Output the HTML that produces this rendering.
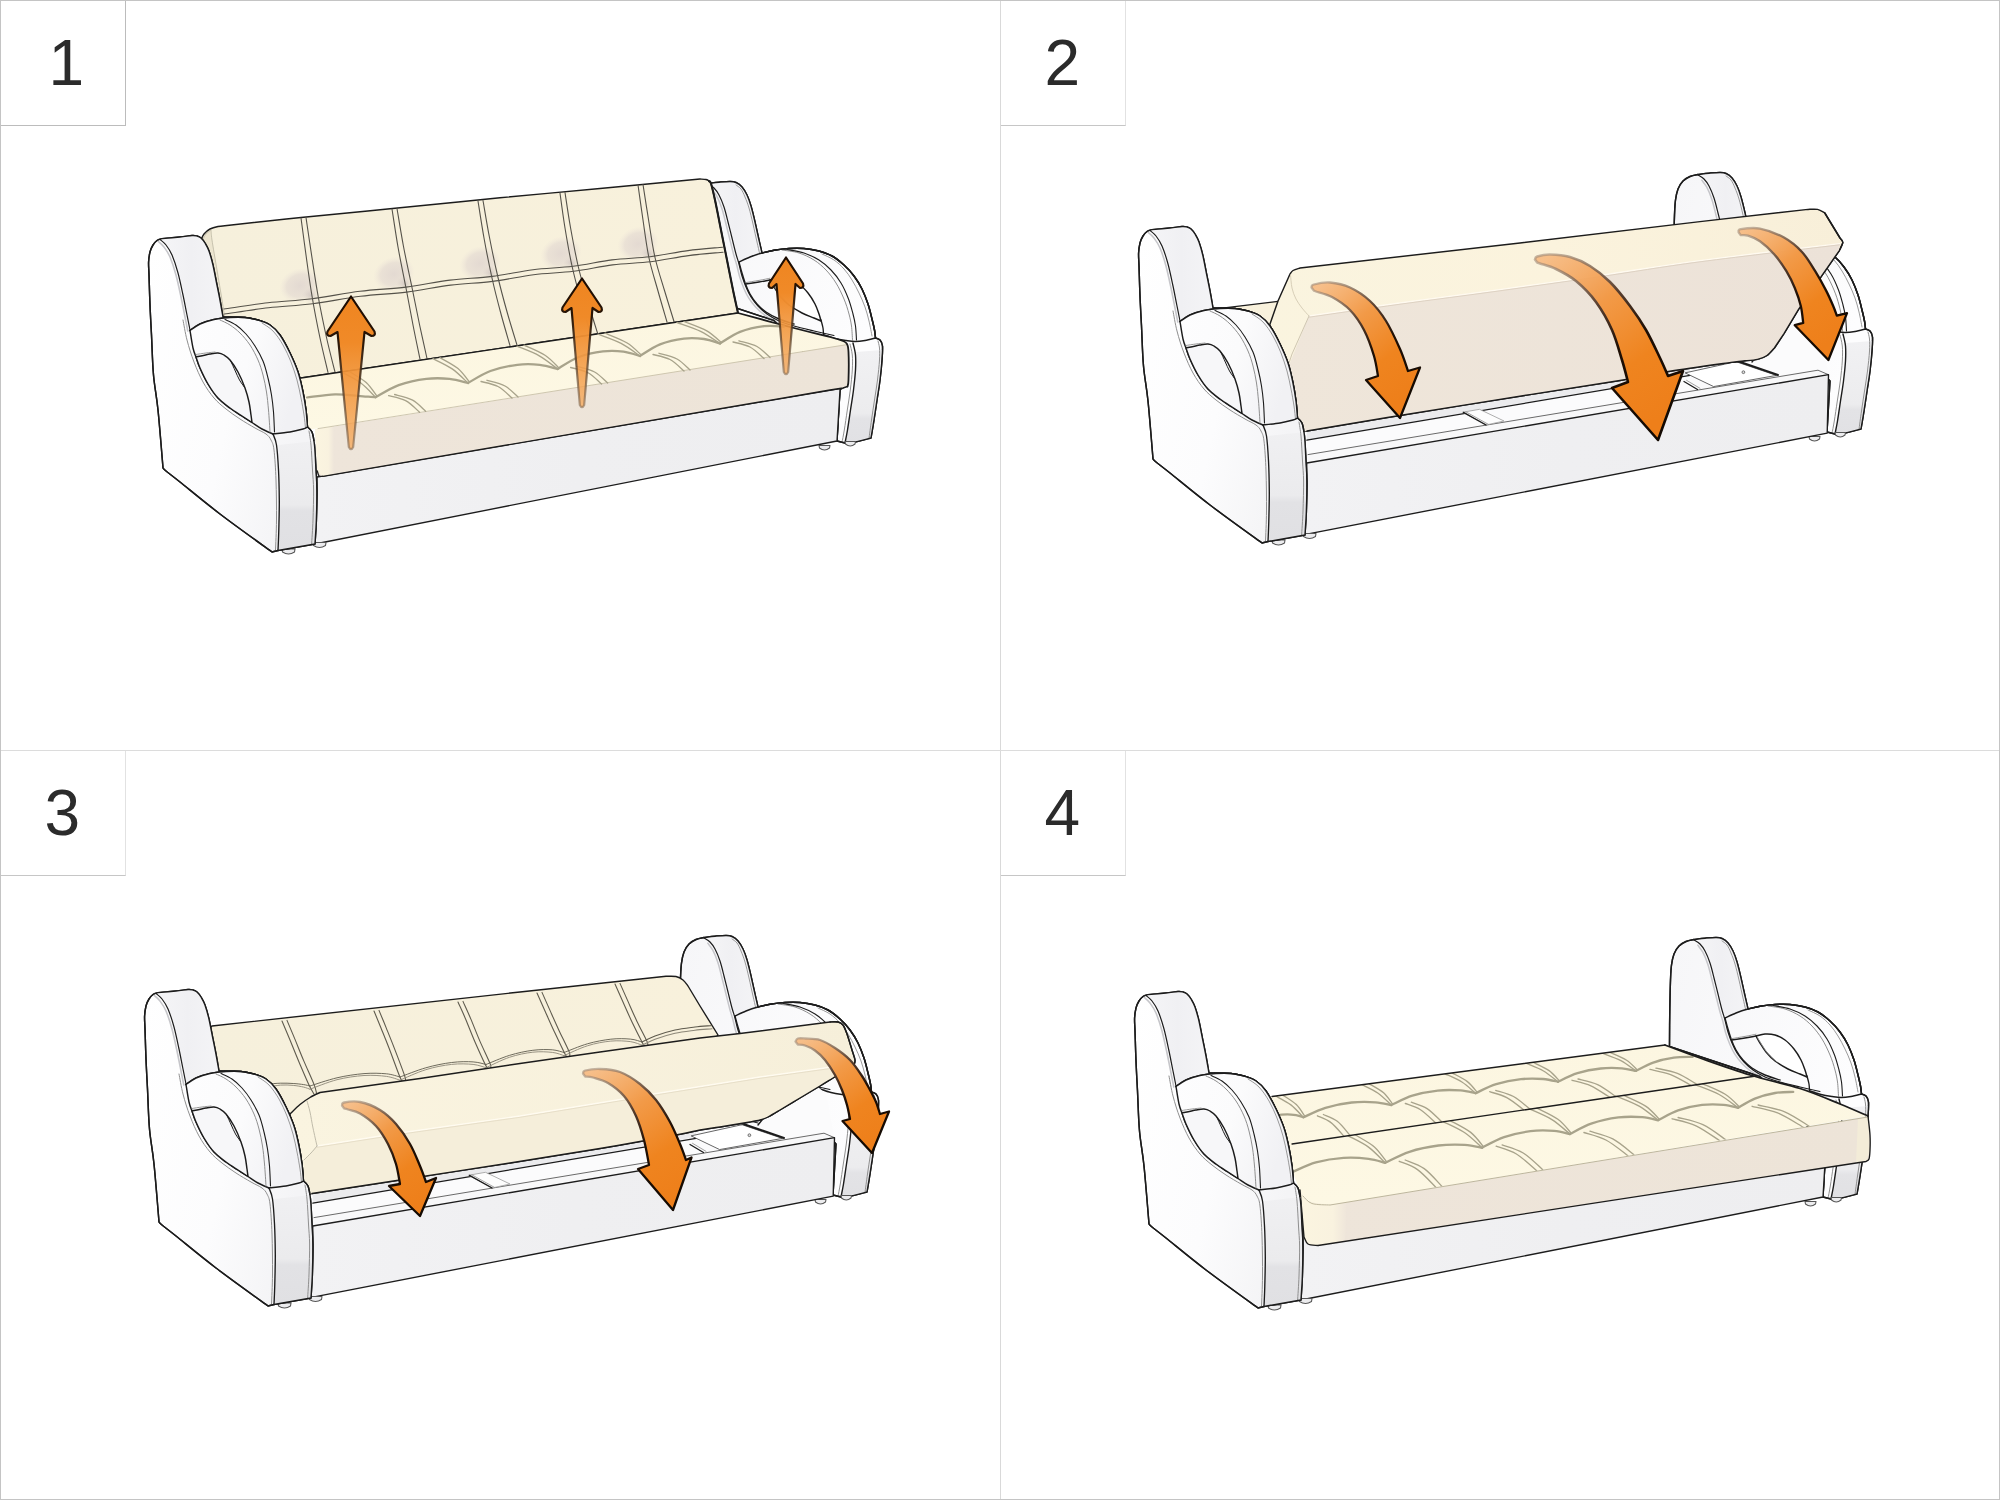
<!DOCTYPE html><html><head><meta charset="utf-8"><title>sofa</title><style>html,body{margin:0;padding:0;background:#fff}
#wrap{position:relative;width:2000px;height:1500px;overflow:hidden;background:#fff;font-family:"Liberation Sans",sans-serif}
#wrap svg{position:absolute;left:0;top:0}
.frame{position:absolute;left:0;top:0;width:1998px;height:1498px;border:1px solid #c4c4c4}
.vl{position:absolute;left:999.5px;top:0;width:1px;height:1500px;background:#d9d9d9}
.hl{position:absolute;left:0;top:749.5px;width:2000px;height:1px;background:#dcdcdc}
.num{position:absolute;width:125.5px;height:125.5px;padding-top:1px;border-right:1px solid #cfcfcf;border-bottom:1px solid #cfcfcf;box-sizing:border-box;background:#fff;color:#2b2b2b;font-size:64px;line-height:125px;text-align:center}
</style></head><body><div id="wrap"><div class="num" style="left:0px;top:0px;text-indent:8px;border-right-color:#bcbcbc;border-bottom-color:#bcbcbc">1</div><div class="num" style="left:1000px;top:0px;border-right-color:#e2e2e2;border-bottom-color:#c6c6c6">2</div><div class="num" style="left:0px;top:750px;border-right-color:#e2e2e2;border-bottom-color:#c6c6c6">3</div><div class="num" style="left:1000px;top:750px;border-right-color:#e2e2e2;border-bottom-color:#c6c6c6">4</div><div class="vl"></div><div class="hl"></div><div class="frame"></div><svg width="2000" height="1500" viewBox="0 0 2000 1500">
<defs>
<linearGradient id="gWall" x1="0" y1="0" x2="1" y2="0.4"><stop offset="0" stop-color="#ffffff"/><stop offset="0.6" stop-color="#fcfcfd"/><stop offset="1" stop-color="#f4f4f6"/></linearGradient>
<linearGradient id="gWallR" x1="0" y1="0" x2="1" y2="0.3"><stop offset="0" stop-color="#f6f6f8"/><stop offset="1" stop-color="#fdfdfe"/></linearGradient>
<linearGradient id="gStrip" x1="0" y1="0" x2="0" y2="1"><stop offset="0" stop-color="#f0f0f2"/><stop offset="0.58" stop-color="#ebebed"/><stop offset="0.64" stop-color="#e2e2e5"/><stop offset="1" stop-color="#e0e0e3"/></linearGradient>
<linearGradient id="gStripR" x1="0" y1="0" x2="0" y2="1"><stop offset="0" stop-color="#f1f1f3"/><stop offset="0.68" stop-color="#ececee"/><stop offset="0.74" stop-color="#e3e3e6"/><stop offset="1" stop-color="#e1e1e4"/></linearGradient>
<linearGradient id="gBase" x1="0" y1="0" x2="1" y2="0"><stop offset="0" stop-color="#f2f2f4"/><stop offset="0.5" stop-color="#efeff1"/><stop offset="1" stop-color="#eeeef0"/></linearGradient>
<linearGradient id="gBack" x1="0" y1="0" x2="1" y2="0"><stop offset="0" stop-color="#f6f0dc"/><stop offset="1" stop-color="#f8f1dc"/></linearGradient>
<linearGradient id="gSeatTop" x1="0" y1="0" x2="0" y2="1"><stop offset="0" stop-color="#fcf6e1"/><stop offset="1" stop-color="#fdf8e4"/></linearGradient>
<linearGradient id="gSeatFront" x1="0" y1="0" x2="1" y2="0"><stop offset="0" stop-color="#eee5da"/><stop offset="1" stop-color="#ede4d8"/></linearGradient>
<linearGradient id="gSeatCorner" x1="0" y1="0" x2="1" y2="0"><stop offset="0" stop-color="#fbf5e0"/><stop offset="0.7" stop-color="#f9f2df"/><stop offset="1" stop-color="#eee5da"/></linearGradient>
<radialGradient id="gTuft2"><stop offset="0" stop-color="#b9adb0" stop-opacity="0.55"/><stop offset="1" stop-color="#d8ccc8" stop-opacity="0"/></radialGradient>
<radialGradient id="gTuft"><stop offset="0" stop-color="#d6cacb" stop-opacity="0.6"/><stop offset="0.65" stop-color="#ddd2cf" stop-opacity="0.5"/><stop offset="0.9" stop-color="#e6dcd6" stop-opacity="0.15"/><stop offset="1" stop-color="#e6dcd6" stop-opacity="0"/></radialGradient>
<linearGradient id="gBlockTop" x1="0" y1="0" x2="1" y2="0"><stop offset="0" stop-color="#faf4df"/><stop offset="0.5" stop-color="#fbf3dd"/><stop offset="1" stop-color="#f8efd9"/></linearGradient>
<linearGradient id="gBlockFace" x1="0" y1="0" x2="1" y2="0"><stop offset="0" stop-color="#efe6da"/><stop offset="1" stop-color="#ece2d8"/></linearGradient>
<linearGradient id="gBlk3" x1="0" y1="0" x2="1" y2="0"><stop offset="0" stop-color="#faf4e0"/><stop offset="1" stop-color="#f6efda"/></linearGradient>
<linearGradient id="gTopStrip" x1="0" y1="0" x2="1" y2="0"><stop offset="0" stop-color="#f5f5f7"/><stop offset="0.5" stop-color="#f0f0f3"/><stop offset="1" stop-color="#f4f4f6"/></linearGradient>
<linearGradient id="gArmL" x1="0" y1="0" x2="1" y2="0.3"><stop offset="0" stop-color="#fdfdfe"/><stop offset="0.55" stop-color="#fbfbfc"/><stop offset="1" stop-color="#f1f1f4"/></linearGradient>
</defs>
<g><path d="M683.5,290.5C683.5,284.4 683.6,265.1 683.8,254C684,242.9 684.2,231.5 684.5,224C684.8,216.5 684.9,213.3 685.5,209C686.1,204.7 686.8,201.2 688,198C689.2,194.8 691,192.1 693,190C695,187.9 697.5,186.6 700,185.5C702.5,184.4 706.7,183.8 708,183.5C709.8,183.3 715.3,182.5 719,182.2C722.7,181.9 727.2,181.5 730,181.5C732.8,181.5 734,181.6 736,182.5C738,183.4 740.2,184.9 742,187C743.8,189.1 745.5,191.8 747,195C748.5,198.2 749.7,201.5 751,206C752.3,210.5 753.7,216.3 755,222C756.3,227.7 757.8,234.8 759,240C760.2,245.2 761.5,250.8 762,253C764,252.5 769.5,251 774,250.2C778.5,249.5 784,248.8 789,248.5C794,248.2 799,248.1 804,248.5C809,248.9 814.3,249.8 819,251C823.7,252.2 827.8,253.7 832,256C836.2,258.3 840.3,261.7 844,265C847.7,268.3 851,272 854,276C857,280 859.7,284.3 862,289C864.3,293.7 866.3,299 868,304C869.7,309 870.9,314.7 872,319C873.1,323.3 873.9,326.8 874.5,330C875.1,333.2 875.3,336.7 875.5,338C876.2,338.3 878.8,338.7 880,340C881.2,341.3 882.2,342.7 882.5,346C882.8,349.3 882.4,354.3 882,360C881.6,365.7 880.8,373.3 880,380C879.2,386.7 878,393.3 877,400C876,406.7 875,413.7 874,420C873,426.3 871.5,435 871,438C868.3,438.7 859.3,441.2 855,442C850.7,442.8 846.7,442.8 845,443L837,441L840,390L774,320.5Z" fill="url(#gWallR)" stroke="#1c1c1c" stroke-width="1.45" stroke-linejoin="round" stroke-linecap="round"/>
<path d="M856,352L882,350L880,380L874,420L871,438L855,442L845,443L853.5,390Z" fill="url(#gStripR)"/>
<path d="M708,183.5C709.8,183.3 715.3,182.5 719,182.2C722.7,181.9 727.2,181.5 730,181.5C732.8,181.5 734,181.6 736,182.5C738,183.4 740.2,184.9 742,187C743.8,189.1 745.5,191.8 747,195C748.5,198.2 749.7,201.5 751,206C752.3,210.5 753.7,216.3 755,222C756.3,227.7 757.8,234.8 759,240C760.2,245.2 761.5,250.8 762,253C760,253.7 753.8,255.5 750,257C746.2,258.5 740.8,261.2 739,262C738.5,260.7 737.2,258 736,254C734.8,250 733.3,243.3 732,238C730.7,232.7 729.3,227.2 728,222C726.7,216.8 725.5,211.5 724,207C722.5,202.5 720.7,198.2 719,195C717.3,191.8 715.8,189.8 714,188C712.2,186.2 709,184.7 708,184Z" fill="url(#gTopStrip)"/>
<path d="M708,184C709,184.7 712.2,186.2 714,188C715.8,189.8 717.3,191.8 719,195C720.7,198.2 722.5,202.5 724,207C725.5,211.5 726.7,216.8 728,222C729.3,227.2 730.7,232.7 732,238C733.3,243.3 734.8,249.7 736,254C737.2,258.3 738,260.3 739,264C740,267.7 740.8,272.2 742,276C743.2,279.8 744.5,283.5 746,287C747.5,290.5 749,293.8 751,297C753,300.2 755.3,303.2 758,306C760.7,308.8 763.5,311.5 767,314C770.5,316.5 774.5,319 779,321C783.5,323 788.2,324.3 794,326C799.8,327.7 807.3,329.4 814,331C820.7,332.6 830.7,334.8 834,335.5" fill="none" stroke="#1c1c1c" stroke-width="1.2" stroke-linejoin="round" stroke-linecap="round"/>
<path d="M711.8,189.2C712.6,190.4 715.1,193 716.8,196.2C718.5,199.4 720.3,203.7 721.8,208.2C723.3,212.7 724.5,218 725.8,223.2C727.1,228.4 728.5,233.9 729.8,239.2C731.1,244.5 732.6,250.9 733.8,255.2C735,259.5 735.8,261.5 736.8,265.2C737.8,268.9 738.6,273.4 739.8,277.2C741,281 742.3,284.7 743.8,288.2C745.3,291.7 746.8,295 748.8,298.2C750.8,301.4 753.1,304.4 755.8,307.2C758.5,310 761.3,312.7 764.8,315.2C768.3,317.7 772.3,320.2 776.8,322.2C781.3,324.2 786,325.5 791.8,327.2C797.6,328.9 805.1,330.6 811.8,332.2C818.5,333.8 828.5,335.9 831.8,336.7" fill="none" stroke="#c6c6ca" stroke-width="1.5" stroke-linejoin="round" stroke-linecap="round"/>
<path d="M736,185C736.8,185.7 739.5,187 741,189C742.5,191 743.7,193.8 745,197C746.3,200.2 747.7,203.5 749,208C750.3,212.5 751.7,218.3 753,224C754.3,229.7 755.9,237.2 757,242C758.1,246.8 759.1,251.2 759.5,253" fill="none" stroke="#8f8f8f" stroke-width="0.9" stroke-linejoin="round" stroke-linecap="round"/>
<path d="M739,262C740.8,261.2 746.2,258.5 750,257C753.8,255.5 758,254.1 762,253C766,251.9 769.5,251 774,250.2C778.5,249.5 784,248.8 789,248.5C794,248.2 799,248.1 804,248.5C809,248.9 814.3,249.8 819,251C823.7,252.2 827.8,253.7 832,256C836.2,258.3 840.3,261.7 844,265C847.7,268.3 851,272 854,276C857,280 859.7,284.3 862,289C864.3,293.7 866.3,299 868,304C869.7,309 870.9,314.7 872,319C873.1,323.3 873.9,326.8 874.5,330C875.1,333.2 875.3,336.7 875.5,338" fill="none" stroke="#1c1c1c" stroke-width="1.45" stroke-linejoin="round" stroke-linecap="round"/>
<path d="M822,254C824,255 830.3,257.5 834,260C837.7,262.5 841,265.7 844,269C847,272.3 849.5,276 852,280C854.5,284 856.8,288.5 859,293C861.2,297.5 863.3,302.3 865,307C866.7,311.7 867.8,316.2 869,321C870.2,325.8 871.5,333.5 872,336" fill="none" stroke="#8f8f8f" stroke-width="0.9" stroke-linejoin="round" stroke-linecap="round"/>
<path d="M739,262C739.5,263.8 740.9,269.3 742,273C743.1,276.7 744.2,280.5 745.5,284C746.8,287.5 748.1,290.7 750,294C751.9,297.3 754.3,301 757,304C759.7,307 762.3,309.5 766,312C769.7,314.5 774.3,317 779,319C783.7,321 791.5,323.2 794,324" fill="none" stroke="#1c1c1c" stroke-width="1.4" stroke-linejoin="round" stroke-linecap="round"/>
<path d="M770,280C771.5,279.7 775.8,278.2 779,278C782.2,277.8 785.7,278 789,279C792.3,280 795.8,281.7 799,284C802.2,286.3 805.3,289.7 808,293C810.7,296.3 813.2,300.5 815,304C816.8,307.5 818,311.2 819,314C820,316.8 820.7,319.8 821,321C819.8,320.5 817.2,319.3 814,318C810.8,316.7 806.2,315.2 802,313C797.8,310.8 792.7,307.8 789,305C785.3,302.2 782.5,299 780,296C777.5,293 775.7,289.7 774,287C772.3,284.3 770.7,281.2 770,280Z" fill="#ffffff" stroke="#1c1c1c" stroke-width="1.45" stroke-linejoin="round" stroke-linecap="round"/>
<path d="M745.5,284C747.8,283.7 754.9,282.7 759,282C763.1,281.3 768.2,280.3 770,280" fill="none" stroke="#1c1c1c" stroke-width="1.4" stroke-linejoin="round" stroke-linecap="round"/>
<path d="M746,282.6C748.2,282.2 755,281.1 759,280.4C763,279.7 768.2,278.6 770,278.2" fill="none" stroke="#8f8f8f" stroke-width="0.9" stroke-linejoin="round" stroke-linecap="round"/>
<path d="M771.5,281.5C772.2,282.8 774.2,286.3 776,289C777.8,291.7 779.5,294.7 782,297.5C784.5,300.3 789.5,304.6 791,306" fill="none" stroke="#8f8f8f" stroke-width="0.9" stroke-linejoin="round" stroke-linecap="round"/>
<path d="M782,250C784.8,250.5 793.7,251.3 799,253C804.3,254.7 809.5,257.2 814,260C818.5,262.8 822.3,266.2 826,270C829.7,273.8 833,278.2 836,283C839,287.8 841.8,293.8 844,299C846.2,304.2 847.8,309.5 849,314C850.2,318.5 850.9,321.7 851.5,326C852.1,330.3 852.3,337.7 852.5,340" fill="none" stroke="#8f8f8f" stroke-width="1" stroke-linejoin="round" stroke-linecap="round"/>
<path d="M787,249.5C789.8,250.1 798.7,251.2 804,253C809.3,254.8 814.5,257.2 819,260C823.5,262.8 827.3,266.2 831,270C834.7,273.8 838.1,278.2 841,283C843.9,287.8 846.5,293.8 848.5,299C850.5,304.2 851.8,309.5 853,314C854.2,318.5 854.9,321.7 855.5,326C856.1,330.3 856.3,337.7 856.5,340" fill="none" stroke="#1c1c1c" stroke-width="1.1" stroke-linejoin="round" stroke-linecap="round"/>
<path d="M821,320C821.3,321.3 822.6,325.6 823,328C823.4,330.4 823.4,333.4 823.5,334.5" fill="none" stroke="#1c1c1c" stroke-width="1.35" stroke-linejoin="round" stroke-linecap="round"/>
<path d="M824,335C825.8,335.6 831.3,337.6 835,338.5C838.7,339.4 842.7,340 846,340.5C849.3,341 851.8,341.5 855,341.5C858.2,341.5 861.6,341.1 865,340.5C868.4,339.9 873.8,338.4 875.5,338" fill="none" stroke="#1c1c1c" stroke-width="1.4" stroke-linejoin="round" stroke-linecap="round"/>
<path d="M853,343C853.4,345 855.1,350.5 855.5,355C855.9,359.5 855.8,364.2 855.5,370C855.2,375.8 854.3,383.3 853.5,390C852.7,396.7 851.5,403.3 850.5,410C849.5,416.7 848.4,424.5 847.5,430C846.6,435.5 845.4,440.8 845,443" fill="none" stroke="#1c1c1c" stroke-width="1.4" stroke-linejoin="round" stroke-linecap="round"/>
<path d="M850,344C850.4,345.8 851.9,350.7 852.3,355C852.7,359.3 852.6,364.2 852.3,370C852,375.8 851.1,383.3 850.3,390C849.5,396.7 848.3,403.3 847.3,410C846.3,416.7 845.2,424.6 844.3,430C843.4,435.4 842.4,440.4 842,442.5" fill="none" stroke="#8f8f8f" stroke-width="1" stroke-linejoin="round" stroke-linecap="round"/>
<path d="M878,341C878.2,342.2 879.2,344.8 879.5,348C879.8,351.2 879.8,354.7 879.5,360C879.2,365.3 878.3,373.3 877.5,380C876.7,386.7 875.5,393.3 874.5,400C873.5,406.7 872.4,413.6 871.5,420C870.6,426.4 869.4,435.4 869,438.5" fill="none" stroke="#8f8f8f" stroke-width="1" stroke-linejoin="round" stroke-linecap="round"/>
<path d="M683.5,290.5C683.5,284.4 683.6,265.1 683.8,254C684,242.9 684.2,231.5 684.5,224C684.8,216.5 684.9,213.3 685.5,209C686.1,204.7 686.8,201.2 688,198C689.2,194.8 691,192.1 693,190C695,187.9 697.5,186.6 700,185.5C702.5,184.4 706.7,183.8 708,183.5C709.8,183.3 715.3,182.5 719,182.2C722.7,181.9 727.2,181.5 730,181.5C732.8,181.5 734,181.6 736,182.5C738,183.4 740.2,184.9 742,187C743.8,189.1 745.5,191.8 747,195C748.5,198.2 749.7,201.5 751,206C752.3,210.5 753.7,216.3 755,222C756.3,227.7 757.8,234.8 759,240C760.2,245.2 761.5,250.8 762,253C764,252.5 769.5,251 774,250.2C778.5,249.5 784,248.8 789,248.5C794,248.2 799,248.1 804,248.5C809,248.9 814.3,249.8 819,251C823.7,252.2 827.8,253.7 832,256C836.2,258.3 840.3,261.7 844,265C847.7,268.3 851,272 854,276C857,280 859.7,284.3 862,289C864.3,293.7 866.3,299 868,304C869.7,309 870.9,314.7 872,319C873.1,323.3 873.9,326.8 874.5,330C875.1,333.2 875.3,336.7 875.5,338C876.2,338.3 878.8,338.7 880,340C881.2,341.3 882.2,342.7 882.5,346C882.8,349.3 882.4,354.3 882,360C881.6,365.7 880.8,373.3 880,380C879.2,386.7 878,393.3 877,400C876,406.7 875,413.7 874,420C873,426.3 871.5,435 871,438C868.3,438.7 859.3,441.2 855,442C850.7,442.8 846.7,442.8 845,443L837,441L840,390L774,320.5Z" fill="none" stroke="#1c1c1c" stroke-width="1.45" stroke-linejoin="round" stroke-linecap="round"/>
<path d="M819,445.5 L819.5,448.0 Q824.5,452.0 829.5,448.0 L830,445.5 Z" fill="#ececee" stroke="#555" stroke-width="1.1" stroke-linejoin="round" stroke-linecap="round"/><path d="M845,441.5 L845.5,444.0 Q850.25,448.0 855.0,444.0 L855.5,441.5 Z" fill="#ececee" stroke="#555" stroke-width="1.1" stroke-linejoin="round" stroke-linecap="round"/>
<path d="M317,477L843,388L840,390L837,441L315,544Z" fill="url(#gBase)" stroke="#1c1c1c" stroke-width="1.35" stroke-linejoin="round" stroke-linecap="round"/>
<path d="M201,240C201.5,239 202.5,235.8 204,234C205.5,232.2 207.7,230.2 210,229C212.3,227.8 215.2,227.1 218,226.5C220.8,225.9 225.5,225.7 227,225.5C239.3,224.2 272.2,220.4 301,217.5C329.8,214.6 366.8,211.1 400,207.8C433.2,204.5 466.7,201 500,197.8C533.3,194.6 566.7,191.6 600,188.5C633.3,185.4 683.3,180.6 700,179C701,179.1 704.5,179.2 706,179.5C707.5,179.8 708.2,180.3 709,181C709.8,181.7 710.7,183.1 711,183.5C711.7,186.2 713.3,192.2 715,200C716.7,207.8 719,220 721,230C723,240 725,250 727,260C729,270 731.2,281.2 733,290C734.8,298.8 737.2,309.2 738,313L301,378L223,330Z" fill="url(#gBack)" stroke="#1c1c1c" stroke-width="1.45" stroke-linejoin="round" stroke-linecap="round"/>
<path d="M709,181C709.3,181.4 710,180.3 711,183.5C712,186.7 713.3,192.2 715,200C716.7,207.8 719,220 721,230C723,240 725,250 727,260C729,270 731.2,281.2 733,290C734.8,298.8 737.2,309.2 738,313" fill="none" stroke="#1c1c1c" stroke-width="2.1" stroke-linejoin="round" stroke-linecap="round"/>
<path d="M203,239C203.5,238.2 204.7,235.5 206,234C207.3,232.5 210.2,230.7 211,230C211.2,231.7 211,233.3 212,240C213,246.7 215.3,260 217,270C218.7,280 220.6,291.3 222,300C223.4,308.7 224.9,318.3 225.5,322L223,330Z" fill="#ece5cf" stroke="#bdb7a3" stroke-width="0.8" stroke-linejoin="round" stroke-linecap="round"/>
<ellipse cx="300" cy="285.5" rx="21" ry="17" fill="url(#gTuft)" transform="rotate(-20 300 285.5)"/>
<ellipse cx="311" cy="295.5" rx="9" ry="8" fill="url(#gTuft2)"/>
<ellipse cx="394" cy="274" rx="21" ry="17" fill="url(#gTuft)" transform="rotate(-20 394 274)"/>
<ellipse cx="405" cy="284" rx="9" ry="8" fill="url(#gTuft2)"/>
<ellipse cx="480" cy="263.5" rx="21" ry="17" fill="url(#gTuft)" transform="rotate(-20 480 263.5)"/>
<ellipse cx="491" cy="273.5" rx="9" ry="8" fill="url(#gTuft2)"/>
<ellipse cx="561" cy="253.5" rx="21" ry="17" fill="url(#gTuft)" transform="rotate(-20 561 253.5)"/>
<ellipse cx="572" cy="263.5" rx="9" ry="8" fill="url(#gTuft2)"/>
<ellipse cx="638" cy="244" rx="21" ry="17" fill="url(#gTuft)" transform="rotate(-20 638 244)"/>
<ellipse cx="649" cy="254" rx="9" ry="8" fill="url(#gTuft2)"/>
<path d="M301,218C301.8,224.2 304.2,242 306,255C307.8,268 309.7,282.2 312,296C314.3,309.8 317.3,325.2 320,338C322.7,350.8 326.7,366.8 328,372.5" fill="none" stroke="#55524a" stroke-width="1.1" stroke-linejoin="round" stroke-linecap="round"/>
<path d="M306,217.5C306.9,223.7 309.5,241.5 311.5,254.5C313.5,267.5 315.5,281.7 318,295.5C320.5,309.3 323.7,324.8 326.5,337.5C329.3,350.2 333.6,366.2 335,372" fill="none" stroke="#55524a" stroke-width="1.1" stroke-linejoin="round" stroke-linecap="round"/>
<path d="M392,209C393,215.3 395.7,233.8 398,247C400.3,260.2 403.5,275 406,288C408.5,301 410.7,313.2 413,325C415.3,336.8 418.8,353.3 420,359" fill="none" stroke="#55524a" stroke-width="1.1" stroke-linejoin="round" stroke-linecap="round"/>
<path d="M397,208.5C398.1,214.8 401,233.3 403.5,246.5C406,259.7 409.3,274.5 412,287.5C414.7,300.5 417,312.7 419.5,324.5C422,336.3 425.8,352.8 427,358.5" fill="none" stroke="#55524a" stroke-width="1.1" stroke-linejoin="round" stroke-linecap="round"/>
<path d="M478,201C479,207.2 481.7,225.2 484,238C486.3,250.8 489.2,265.3 492,278C494.8,290.7 498,302.8 501,314C504,325.2 508.5,340.2 510,345.5" fill="none" stroke="#55524a" stroke-width="1.1" stroke-linejoin="round" stroke-linecap="round"/>
<path d="M483,200.5C484.1,206.7 487,224.7 489.5,237.5C492,250.3 495,264.8 498,277.5C501,290.2 504.3,302.2 507.5,313.5C510.7,324.8 515.4,339.8 517,345" fill="none" stroke="#55524a" stroke-width="1.1" stroke-linejoin="round" stroke-linecap="round"/>
<path d="M560,193C560.8,198.8 563,215.8 565,228C567,240.2 569.3,253.8 572,266C574.7,278.2 577.9,289.8 581,301C584.1,312.2 588.9,328.1 590.5,333.5" fill="none" stroke="#55524a" stroke-width="1.1" stroke-linejoin="round" stroke-linecap="round"/>
<path d="M565,192.5C565.9,198.3 568.3,215.3 570.5,227.5C572.7,239.7 575.2,253.3 578,265.5C580.8,277.7 584.2,289.2 587.5,300.5C590.8,311.8 595.8,327.6 597.5,333" fill="none" stroke="#55524a" stroke-width="1.1" stroke-linejoin="round" stroke-linecap="round"/>
<path d="M638,185C638.8,190.8 641.2,207.8 643,220C644.8,232.2 646.5,246.2 649,258C651.5,269.8 655,280.3 658,291C661,301.7 665.5,316.8 667,322" fill="none" stroke="#55524a" stroke-width="1.1" stroke-linejoin="round" stroke-linecap="round"/>
<path d="M643,184.5C643.9,190.3 646.5,207.3 648.5,219.5C650.5,231.7 652.3,245.7 655,257.5C657.7,269.3 661.3,279.8 664.5,290.5C667.7,301.2 672.4,316.3 674,321.5" fill="none" stroke="#55524a" stroke-width="1.1" stroke-linejoin="round" stroke-linecap="round"/>
<path d="M224,309C231.3,308 253.3,304.4 268,302.7C282.7,301 296.7,300.8 312,298.8C327.3,296.9 344.3,293.2 360,291.3C375.7,289.3 391,289 406,287.1C421,285.3 435.7,281.8 450,280.1C464.3,278.3 478.2,278.2 492,276.4C505.8,274.7 519.5,271.4 533,269.7C546.5,268 559.8,268 573,266.3C586.2,264.7 599.2,261.5 612,259.9C624.8,258.3 637.3,258.3 650,256.8C662.7,255.2 675.9,252.2 688,250.6C700.1,249 716.8,247.8 722.5,247.2" fill="none" stroke="#55524a" stroke-width="1.1" stroke-linejoin="round" stroke-linecap="round"/>
<path d="M224.6,314C231.9,313 253.9,309.4 268.6,307.7C283.3,306 297.3,305.8 312.6,303.8C327.9,301.9 344.9,298.2 360.6,296.3C376.3,294.3 391.6,294 406.6,292.1C421.6,290.3 436.3,286.8 450.6,285.1C464.9,283.3 478.8,283.2 492.6,281.4C506.4,279.7 520.1,276.4 533.6,274.7C547.1,273 560.4,273 573.6,271.3C586.8,269.7 599.8,266.5 612.6,264.9C625.4,263.3 637.9,263.3 650.6,261.8C663.3,260.2 676.5,257.2 688.6,255.6C700.7,254 717.4,252.8 723.1,252.2" fill="none" stroke="#55524a" stroke-width="1.1" stroke-linejoin="round" stroke-linecap="round"/>
<path d="M285,380.4L301,378L738,313L790,327L830,337L843,341L847,344.3L318,428.3L300,431Z" fill="url(#gSeatTop)"/>
<path d="M315,429.5L847,344.3C847.2,345.6 848.2,346.1 848.5,352C848.8,357.9 848.7,374.2 848.5,380C848.3,385.8 847.7,385.4 847.5,386.5L843,388L830,390L323,476.3C322.3,476.2 319.9,476.7 319,476C318.1,475.3 317.8,472.7 317.5,472Z" fill="url(#gSeatFront)"/>
<path d="M315,429.5L334,426.3L334,474.4L323,476.3L317.5,472Z" fill="url(#gSeatCorner)"/>
<path d="M318,428.6L847,344.6" fill="none" stroke="#cfc7ae" stroke-width="1" stroke-linejoin="round" stroke-linecap="round"/>
<path d="M301,378L738,313" fill="none" stroke="#1c1c1c" stroke-width="1.35" stroke-linejoin="round" stroke-linecap="round"/>
<path d="M738,313C746.7,315.3 774.7,323 790,327C805.3,331 821.2,334.7 830,337C838.8,339.3 840.2,339.8 843,341C845.8,342.2 846.1,342.2 847,344C847.9,345.8 848.2,346 848.5,352C848.8,358 848.7,374.2 848.5,380C848.3,385.8 847.7,385.4 847.5,386.5" fill="none" stroke="#1c1c1c" stroke-width="1.8" stroke-linejoin="round" stroke-linecap="round"/>
<path d="M847.5,386.5L843,388L830,390L323,476.3C322.3,476.2 319.9,476.9 319,476C318.1,475.1 317.6,471.8 317.3,471" fill="none" stroke="#1c1c1c" stroke-width="1.35" stroke-linejoin="round" stroke-linecap="round"/>
<path d="M307,397.5C311.7,397 325.7,394.5 335,394.3C344.3,394.1 356.2,395.8 363,396.3C369.8,396.8 373.5,397.1 375.6,397.2" fill="none" stroke="#a8a38b" stroke-width="2.2" stroke-linejoin="round" stroke-linecap="round"/>
<path d="M375.6,397.2C379.5,395.2 390.2,388.2 398.7,385.1C407.2,382.1 418,379.9 426.4,378.9C434.9,377.8 442.6,378.2 449.5,378.8C456.4,379.5 464.9,382.3 468,383" fill="none" stroke="#a8a38b" stroke-width="2.3" stroke-linejoin="round" stroke-linecap="round"/>
<path d="M468,383C471.7,381 482.2,374 490.4,371C498.6,368 509.1,365.8 517.3,364.8C525.5,363.8 533,364.1 539.7,364.8C546.4,365.5 554.6,368.3 557.6,369" fill="none" stroke="#a8a38b" stroke-width="2.3" stroke-linejoin="round" stroke-linecap="round"/>
<path d="M557.6,369C561,367 570.6,360.2 578.2,357.2C585.8,354.3 595.4,352.3 602.9,351.4C610.5,350.4 617.3,350.8 623.5,351.6C629.7,352.4 637.3,355.3 640,356" fill="none" stroke="#a8a38b" stroke-width="2.3" stroke-linejoin="round" stroke-linecap="round"/>
<path d="M640,356C643.3,354.1 652.7,347.3 660,344.4C667.3,341.5 676.7,339.5 684,338.6C691.3,337.7 698,338.2 704,339C710,339.8 717.3,342.8 720,343.5" fill="none" stroke="#a8a38b" stroke-width="2.3" stroke-linejoin="round" stroke-linecap="round"/>
<path d="M720,343.5C723.3,341.6 732.7,334.8 740,331.9C747.3,329 756.7,327 764,326.1C771.3,325.2 780.7,326.4 784,326.5" fill="none" stroke="#a8a38b" stroke-width="2.3" stroke-linejoin="round" stroke-linecap="round"/>
<path d="M342,372.3C345.1,374 354.9,378.6 360.5,382.8C366.1,386.9 373.1,394.8 375.6,397.2" fill="none" stroke="#a8a38b" stroke-width="1.35" stroke-linejoin="round" stroke-linecap="round"/>
<path d="M349,371.3C351.9,373.2 361.5,378.3 366.2,382.5C370.8,386.7 375.3,394.1 377.1,396.4" fill="none" stroke="#a8a38b" stroke-width="1.35" stroke-linejoin="round" stroke-linecap="round"/>
<path d="M388.6,395.7C391.4,396.5 400.4,397.9 405.6,400.7C410.8,403.4 417.3,410.3 419.6,412.2" fill="none" stroke="#a8a38b" stroke-width="1.35" stroke-linejoin="round" stroke-linecap="round"/>
<path d="M394.6,394.5C397.6,395.4 407.4,397.4 412.6,400.2C417.8,403 423.4,409.4 425.6,411.2" fill="none" stroke="#a8a38b" stroke-width="1.35" stroke-linejoin="round" stroke-linecap="round"/>
<path d="M433,358.7C436.2,360.4 446.4,364.9 452.2,368.9C458.1,373 465.4,380.7 468,383" fill="none" stroke="#a8a38b" stroke-width="1.35" stroke-linejoin="round" stroke-linecap="round"/>
<path d="M440,357.7C443,359.5 453.1,364.6 458,368.6C462.9,372.7 467.6,379.9 469.5,382.2" fill="none" stroke="#a8a38b" stroke-width="1.35" stroke-linejoin="round" stroke-linecap="round"/>
<path d="M481,381.5C483.8,382.3 492.8,383.8 498,386.5C503.2,389.2 509.7,396.1 512,398" fill="none" stroke="#a8a38b" stroke-width="1.35" stroke-linejoin="round" stroke-linecap="round"/>
<path d="M487,380.3C490,381.2 499.8,383.2 505,386C510.2,388.8 515.8,395.2 518,397" fill="none" stroke="#a8a38b" stroke-width="1.35" stroke-linejoin="round" stroke-linecap="round"/>
<path d="M517,346.2C520.7,347.8 532.6,352 539.3,355.8C546.1,359.6 554.6,366.8 557.6,369" fill="none" stroke="#a8a38b" stroke-width="1.35" stroke-linejoin="round" stroke-linecap="round"/>
<path d="M524,345.2C527.6,346.9 539.5,351.6 545.4,355.5C551.2,359.3 556.8,366.1 559.1,368.2" fill="none" stroke="#a8a38b" stroke-width="1.35" stroke-linejoin="round" stroke-linecap="round"/>
<path d="M570.6,367.5C573.4,368.3 582.4,369.8 587.6,372.5C592.8,375.2 599.3,382.1 601.6,384" fill="none" stroke="#a8a38b" stroke-width="1.35" stroke-linejoin="round" stroke-linecap="round"/>
<path d="M576.6,366.3C579.6,367.2 589.4,369.2 594.6,372C599.8,374.8 605.4,381.2 607.6,383" fill="none" stroke="#a8a38b" stroke-width="1.35" stroke-linejoin="round" stroke-linecap="round"/>
<path d="M598,334.2C601.9,335.7 614.1,339.7 621.1,343.4C628.1,347 636.9,353.9 640,356" fill="none" stroke="#a8a38b" stroke-width="1.35" stroke-linejoin="round" stroke-linecap="round"/>
<path d="M605,333.2C608.7,334.8 621.1,339.3 627.2,343C633.3,346.7 639.1,353.2 641.5,355.2" fill="none" stroke="#a8a38b" stroke-width="1.35" stroke-linejoin="round" stroke-linecap="round"/>
<path d="M653,354.5C655.8,355.3 664.8,356.8 670,359.5C675.2,362.2 681.7,369.1 684,371" fill="none" stroke="#a8a38b" stroke-width="1.35" stroke-linejoin="round" stroke-linecap="round"/>
<path d="M659,353.3C662,354.2 671.8,356.2 677,359C682.2,361.8 687.8,368.2 690,370" fill="none" stroke="#a8a38b" stroke-width="1.35" stroke-linejoin="round" stroke-linecap="round"/>
<path d="M677,322.5C680.9,324 693.5,327.8 700.6,331.3C707.8,334.8 716.8,341.5 720,343.5" fill="none" stroke="#a8a38b" stroke-width="1.35" stroke-linejoin="round" stroke-linecap="round"/>
<path d="M684,321.5C687.8,323.1 700.5,327.4 706.8,330.9C713,334.5 719,340.7 721.5,342.7" fill="none" stroke="#a8a38b" stroke-width="1.35" stroke-linejoin="round" stroke-linecap="round"/>
<path d="M733,342C735.8,342.8 744.8,344.2 750,347C755.2,349.8 761.7,356.6 764,358.5" fill="none" stroke="#a8a38b" stroke-width="1.35" stroke-linejoin="round" stroke-linecap="round"/>
<path d="M739,340.8C742,341.8 751.8,343.7 757,346.5C762.2,349.3 767.8,355.7 770,357.5" fill="none" stroke="#a8a38b" stroke-width="1.35" stroke-linejoin="round" stroke-linecap="round"/>
<path d="M282,549 L282.5,552.0 Q288.5,556.0 294.5,552.0 L295,549 Z" fill="#ececee" stroke="#555" stroke-width="1.1" stroke-linejoin="round" stroke-linecap="round"/><path d="M313,542.5 L313.5,545.5 Q319.5,549.5 325.5,545.5 L326,542.5 Z" fill="#ececee" stroke="#555" stroke-width="1.1" stroke-linejoin="round" stroke-linecap="round"/>
<path d="M163,468C162.2,458.3 159.6,425.5 158,410C156.4,394.5 154.6,387.5 153.5,375C152.4,362.5 152.1,346.7 151.5,335C150.9,323.3 150.4,315 150,305C149.6,295 149.2,282.2 149,275C148.8,267.8 148.4,265.8 148.6,262C148.8,258.2 149.3,254.8 150,252C150.7,249.2 151.8,246.9 153,245C154.2,243.1 155.5,241.6 157,240.5C158.5,239.4 161.2,238.9 162,238.6C165,238.3 175,237.5 180,237C185,236.5 189.2,235.7 192,235.5C194.8,235.3 195.5,235.6 197,236C198.5,236.4 199.7,236.8 201,238C202.3,239.2 203.7,240.8 205,243C206.3,245.2 207.7,247.3 209,251C210.3,254.7 211.7,259.3 213,265C214.3,270.7 215.8,279.2 217,285C218.2,290.8 219,294.7 220,300C221,305.3 222.5,314.2 223,317C226.7,317.1 239.2,317 245,317.5C250.8,318 253.8,318.8 258,320C262.2,321.2 266.3,322.5 270,325C273.7,327.5 276.7,330.3 280,335C283.3,339.7 287,346.8 290,353C293,359.2 295.8,365.5 298,372C300.2,378.5 301.7,385.7 303,392C304.3,398.3 305.2,404.2 306,410C306.8,415.8 307.2,424.2 307.5,427C308.2,427.8 310.8,429 312,432C313.2,435 313.8,438.7 314.5,445C315.2,451.3 315.6,462.5 316,470C316.4,477.5 316.9,481.7 317,490C317.1,498.3 316.7,511 316.4,520C316.1,529 315.2,540 315,544L278,550.5L272,552C263.3,545.7 235.3,525.7 220,514C204.7,502.3 189,489.2 180,482C171,474.8 168.8,473.3 166,471C163.2,468.7 163.5,468.5 163,468Z" fill="url(#gWall)" stroke="#1c1c1c" stroke-width="1.45" stroke-linejoin="round" stroke-linecap="round"/>
<path d="M278.5,445L315,441L316.6,520L315,544L278,550.5Z" fill="url(#gStrip)"/>
<path d="M160,239.5C161,240.4 164,242.4 166,245C168,247.6 170,250.3 172,255C174,259.7 176.2,266.3 178,273C179.8,279.7 181.5,288 183,295C184.5,302 185.8,309.2 187,315C188.2,320.8 189.5,327.5 190,330C191.7,329 196,325.8 200,324C204,322.2 210.2,320.5 214,319.5C217.8,318.5 221.5,318.1 223,317.8C222.5,314.8 221,305.5 220,300C219,294.5 218.2,290.8 217,285C215.8,279.2 214.3,270.7 213,265C211.7,259.3 210.3,254.7 209,251C207.7,247.3 206.3,245.2 205,243C203.7,240.8 202.3,239.2 201,238C199.7,236.8 198.5,236.4 197,236C195.5,235.6 194.8,235.3 192,235.5C189.2,235.7 185,236.5 180,237C175,237.5 165,238.3 162,238.6Z" fill="url(#gTopStrip)"/>
<path d="M160,239.5C161,240.4 164,242.4 166,245C168,247.6 170,250.3 172,255C174,259.7 176.2,266.3 178,273C179.8,279.7 181.5,288 183,295C184.5,302 185.8,309.2 187,315C188.2,320.8 189.5,327.5 190,330" fill="none" stroke="#1c1c1c" stroke-width="1.2" stroke-linejoin="round" stroke-linecap="round"/>
<path d="M157.8,241C158.8,242 162,244.3 164,247C166,249.7 168,252.3 170,257C172,261.7 174.2,268.3 176,275C177.8,281.7 179.5,290 181,297C182.5,304 183.9,311.3 185,317C186.1,322.7 187.3,328.7 187.8,331" fill="none" stroke="#c6c6ca" stroke-width="1.6" stroke-linejoin="round" stroke-linecap="round"/>
<path d="M190,330.5C191.7,329.4 196,325.8 200,324C204,322.2 209,320.6 214,319.5C219,318.4 224.8,317.8 230,317.5C235.2,317.2 240.3,317.1 245,317.5C249.7,317.9 253.8,318.8 258,320C262.2,321.2 266.3,322.5 270,325C273.7,327.5 276.7,330.3 280,335C283.3,339.7 287,346.8 290,353C293,359.2 295.8,365.5 298,372C300.2,378.5 301.7,385.7 303,392C304.3,398.3 305.2,404.2 306,410C306.8,415.8 307.2,424.2 307.5,427" fill="none" stroke="#1c1c1c" stroke-width="1.45" stroke-linejoin="round" stroke-linecap="round"/>
<path d="M190,330.5C191.7,329.4 196,325.8 200,324C204,322.2 209,320.6 214,319.5C219,318.4 224.8,317.8 230,317.5C235.2,317.2 240.3,317.1 245,317.5C249.7,317.9 253.8,318.8 258,320C262.2,321.2 266.3,322.5 270,325C273.7,327.5 276.7,330.3 280,335C283.3,339.7 287,346.8 290,353C293,359.2 295.8,365.5 298,372C300.2,378.5 301.7,385.7 303,392C304.3,398.3 305.2,404.2 306,410C306.8,415.8 307.2,424.2 307.5,427C306.8,427.3 305.9,428.2 303,429C300.1,429.8 295,431.2 290,432C285,432.8 275.8,433.7 273,434C271.2,433.2 265.5,430.9 262,429C258.5,427.1 253.7,423.6 252,422.5C251.8,421.2 251.5,418.4 251,415C250.5,411.6 250,406.5 249,402C248,397.5 246.8,393 245,388C243.2,383 240.5,376.7 238,372C235.5,367.3 232.3,362.8 230,360C227.7,357.2 226,356.2 224,355C222,353.8 220.3,353.2 218,353C215.7,352.8 213.7,353.3 210,354C206.3,354.7 198.3,356.5 196,357C195.5,355.5 194,352.4 193,348C192,343.6 190.5,333.4 190,330.5Z" fill="url(#gArmL)"/>
<path d="M262,323C263.8,324.3 269.5,327.3 273,331C276.5,334.7 280,339.8 283,345C286,350.2 288.7,356.2 291,362C293.3,367.8 295.3,374 297,380C298.7,386 299.8,392.2 301,398C302.2,403.8 303.2,410 304,415C304.8,420 305.2,425.8 305.5,428" fill="none" stroke="#8f8f8f" stroke-width="0.9" stroke-linejoin="round" stroke-linecap="round"/>
<path d="M190,330.5C190.5,333.4 192,343.6 193,348C194,352.4 194.8,353.7 196,357C197.2,360.3 198,363.5 200,368C202,372.5 205,379 208,384C211,389 214.3,394 218,398C221.7,402 226,405 230,408C234,411 238.3,413.6 242,416C245.7,418.4 248.7,420.3 252,422.5C255.3,424.7 258.5,427.1 262,429C265.5,430.9 271.2,433.2 273,434" fill="none" stroke="#1c1c1c" stroke-width="1.45" stroke-linejoin="round" stroke-linecap="round"/>
<path d="M183,320C183.7,323.3 185.2,333 187,340C188.8,347 191.3,355 194,362C196.7,369 199.7,376 203,382C206.3,388 210.2,393.5 214,398C217.8,402.5 221.7,405.5 226,409C230.3,412.5 235.2,415.8 240,419C244.8,422.2 250.7,425.5 255,428C259.3,430.5 263.3,432 266,434C268.7,436 269.7,437.3 271,440C272.3,442.7 273.2,443.3 274,450C274.8,456.7 275.6,468.3 276,480C276.4,491.7 276.6,508.3 276.5,520C276.4,531.7 275.7,545 275.5,550" fill="none" stroke="#8f8f8f" stroke-width="1" stroke-linejoin="round" stroke-linecap="round"/>
<path d="M196,357C198.3,356.5 206.3,354.7 210,354C213.7,353.3 215.7,352.8 218,353C220.3,353.2 222,353.8 224,355C226,356.2 227.7,357.2 230,360C232.3,362.8 235.5,367.3 238,372C240.5,376.7 243.2,383 245,388C246.8,393 248,397.5 249,402C250,406.5 250.5,411.6 251,415C251.5,418.4 251.8,421.2 252,422.5C250.3,421.4 245.7,418.4 242,416C238.3,413.6 234,411 230,408C226,405 221.7,402 218,398C214.3,394 211,389 208,384C205,379 202,372.5 200,368C198,363.5 196.7,358.8 196,357Z" fill="#f7f7f9" stroke="#1c1c1c" stroke-width="1.45" stroke-linejoin="round" stroke-linecap="round"/>
<path d="M231,361.5C231.7,363.1 233.9,367.9 235.3,371C236.7,374.1 238,377.3 239.5,380C241,382.7 243.5,385.8 244.3,387" fill="none" stroke="#1c1c1c" stroke-width="1" stroke-linejoin="round" stroke-linecap="round"/>
<path d="M196,354.5C197.7,354.2 202.8,353.4 206,353C209.2,352.6 213.5,352.2 215,352" fill="none" stroke="#8f8f8f" stroke-width="0.9" stroke-linejoin="round" stroke-linecap="round"/>
<path d="M220,320C221.7,320.8 226.7,322.8 230,325C233.3,327.2 236.7,329.7 240,333C243.3,336.3 247,340.5 250,345C253,349.5 255.8,355 258,360C260.2,365 261.6,369.7 263,375C264.4,380.3 265.6,386.2 266.5,392C267.4,397.8 267.9,403.3 268.5,410C269.1,416.7 269.8,428.3 270,432" fill="none" stroke="#8f8f8f" stroke-width="1" stroke-linejoin="round" stroke-linecap="round"/>
<path d="M225,319.5C226.8,320.4 232.5,322.6 236,325C239.5,327.4 242.8,330.5 246,334C249.2,337.5 252.2,341.5 255,346C257.8,350.5 260.8,355.7 263,361C265.2,366.3 266.6,372.3 268,378C269.4,383.7 270.6,389.3 271.5,395C272.4,400.7 273,405.8 273.5,412C274,418.2 274.3,428.7 274.5,432" fill="none" stroke="#1c1c1c" stroke-width="1.1" stroke-linejoin="round" stroke-linecap="round"/>
<path d="M273,434C275.8,433.7 285,432.8 290,432C295,431.2 300.1,429.8 303,429C305.9,428.2 306.8,427.3 307.5,427" fill="none" stroke="#1c1c1c" stroke-width="1.4" stroke-linejoin="round" stroke-linecap="round"/>
<path d="M273,434C273.6,435.8 275.6,439 276.5,445C277.4,451 278,460.8 278.5,470C279,479.2 279.2,490 279.3,500C279.4,510 279,521.6 278.8,530C278.6,538.4 278.1,547.1 278,550.5" fill="none" stroke="#1c1c1c" stroke-width="1.35" stroke-linejoin="round" stroke-linecap="round"/>
<path d="M309,431C309.3,433.3 310.4,438.5 311,445C311.6,451.5 312.1,462.5 312.5,470C312.9,477.5 313.5,481.7 313.6,490C313.7,498.3 313.3,510.9 313,520C312.7,529.1 311.8,540.4 311.6,544.5" fill="none" stroke="#8f8f8f" stroke-width="1" stroke-linejoin="round" stroke-linecap="round"/>
<path d="M163,468C162.2,458.3 159.6,425.5 158,410C156.4,394.5 154.6,387.5 153.5,375C152.4,362.5 152.1,346.7 151.5,335C150.9,323.3 150.4,315 150,305C149.6,295 149.2,282.2 149,275C148.8,267.8 148.4,265.8 148.6,262C148.8,258.2 149.3,254.8 150,252C150.7,249.2 151.8,246.9 153,245C154.2,243.1 155.5,241.6 157,240.5C158.5,239.4 161.2,238.9 162,238.6C165,238.3 175,237.5 180,237C185,236.5 189.2,235.7 192,235.5C194.8,235.3 195.5,235.6 197,236C198.5,236.4 199.7,236.8 201,238C202.3,239.2 203.7,240.8 205,243C206.3,245.2 207.7,247.3 209,251C210.3,254.7 211.7,259.3 213,265C214.3,270.7 215.8,279.2 217,285C218.2,290.8 219,294.7 220,300C221,305.3 222.5,314.2 223,317C226.7,317.1 239.2,317 245,317.5C250.8,318 253.8,318.8 258,320C262.2,321.2 266.3,322.5 270,325C273.7,327.5 276.7,330.3 280,335C283.3,339.7 287,346.8 290,353C293,359.2 295.8,365.5 298,372C300.2,378.5 301.7,385.7 303,392C304.3,398.3 305.2,404.2 306,410C306.8,415.8 307.2,424.2 307.5,427C308.2,427.8 310.8,429 312,432C313.2,435 313.8,438.7 314.5,445C315.2,451.3 315.6,462.5 316,470C316.4,477.5 316.9,481.7 317,490C317.1,498.3 316.7,511 316.4,520C316.1,529 315.2,540 315,544L278,550.5L272,552C263.3,545.7 235.3,525.7 220,514C204.7,502.3 189,489.2 180,482C171,474.8 168.8,473.3 166,471C163.2,468.7 163.5,468.5 163,468Z" fill="none" stroke="#1c1c1c" stroke-width="1.45" stroke-linejoin="round" stroke-linecap="round"/>
<path d="M190,330.5C191.7,329.4 196,325.8 200,324C204,322.2 209,320.6 214,319.5C219,318.4 224.8,317.8 230,317.5C235.2,317.2 240.3,317.1 245,317.5C249.7,317.9 255.8,319.6 258,320" fill="none" stroke="#1c1c1c" stroke-width="1.45" stroke-linejoin="round" stroke-linecap="round"/>
<defs><linearGradient id="ua1" gradientUnits="userSpaceOnUse" x1="0" y1="296.5" x2="0" y2="450"><stop offset="0" stop-color="#ef8520"/><stop offset="0.3" stop-color="#f08a28"/><stop offset="1" stop-color="#f5a95c" stop-opacity="0.75"/></linearGradient><linearGradient id="ua1s" gradientUnits="userSpaceOnUse" x1="0" y1="296.5" x2="0" y2="450"><stop offset="0" stop-color="#1a0a00"/><stop offset="0.3" stop-color="#2a1606"/><stop offset="1" stop-color="#80644a" stop-opacity="0.55"/></linearGradient></defs><path d="M351,296.5 L374.5,331.5 Q376.0,336.0 371.5,336.0 L364.5,332.0 L353.2,447 Q351,451.5 348.8,447 L337.5,332.0 L330.5,336.0 Q326.0,336.0 327.5,331.5 Z" fill="url(#ua1)" stroke="url(#ua1s)" stroke-width="2.2" stroke-linejoin="round" stroke-linecap="round"/><defs><linearGradient id="ua2" gradientUnits="userSpaceOnUse" x1="0" y1="278.5" x2="0" y2="408"><stop offset="0" stop-color="#ef8520"/><stop offset="0.3" stop-color="#f08a28"/><stop offset="1" stop-color="#f5a95c" stop-opacity="0.75"/></linearGradient><linearGradient id="ua2s" gradientUnits="userSpaceOnUse" x1="0" y1="278.5" x2="0" y2="408"><stop offset="0" stop-color="#1a0a00"/><stop offset="0.3" stop-color="#2a1606"/><stop offset="1" stop-color="#80644a" stop-opacity="0.55"/></linearGradient></defs><path d="M582,278.5 L601.5,307.5 Q603.0,312.0 598.5,312.0 L592.5,308.0 L584.2,405 Q582,409.5 579.8,405 L571.5,308.0 L565.5,312.0 Q561.0,312.0 562.5,307.5 Z" fill="url(#ua2)" stroke="url(#ua2s)" stroke-width="2.2" stroke-linejoin="round" stroke-linecap="round"/><defs><linearGradient id="ua3" gradientUnits="userSpaceOnUse" x1="0" y1="257.5" x2="0" y2="375"><stop offset="0" stop-color="#ef8520"/><stop offset="0.3" stop-color="#f08a28"/><stop offset="1" stop-color="#f5a95c" stop-opacity="0.75"/></linearGradient><linearGradient id="ua3s" gradientUnits="userSpaceOnUse" x1="0" y1="257.5" x2="0" y2="375"><stop offset="0" stop-color="#1a0a00"/><stop offset="0.3" stop-color="#2a1606"/><stop offset="1" stop-color="#80644a" stop-opacity="0.55"/></linearGradient></defs><path d="M786,257.5 L803,283.5 Q804.5,288.0 800,288.0 L795.5,284.0 L788.2,372 Q786,376.5 783.8,372 L776.5,284.0 L772,288.0 Q767.5,288.0 769,283.5 Z" fill="url(#ua3)" stroke="url(#ua3s)" stroke-width="2.2" stroke-linejoin="round" stroke-linecap="round"/></g>
<g transform="translate(990,-9)"><path d="M683.5,290.5C683.5,284.4 683.6,265.1 683.8,254C684,242.9 684.2,231.5 684.5,224C684.8,216.5 684.9,213.3 685.5,209C686.1,204.7 686.8,201.2 688,198C689.2,194.8 691,192.1 693,190C695,187.9 697.5,186.6 700,185.5C702.5,184.4 706.7,183.8 708,183.5C709.8,183.3 715.3,182.5 719,182.2C722.7,181.9 727.2,181.5 730,181.5C732.8,181.5 734,181.6 736,182.5C738,183.4 740.2,184.9 742,187C743.8,189.1 745.5,191.8 747,195C748.5,198.2 749.7,201.5 751,206C752.3,210.5 753.7,216.3 755,222C756.3,227.7 757.8,234.8 759,240C760.2,245.2 761.5,250.8 762,253C764,252.5 769.5,251 774,250.2C778.5,249.5 784,248.8 789,248.5C794,248.2 799,248.1 804,248.5C809,248.9 814.3,249.8 819,251C823.7,252.2 827.8,253.7 832,256C836.2,258.3 840.3,261.7 844,265C847.7,268.3 851,272 854,276C857,280 859.7,284.3 862,289C864.3,293.7 866.3,299 868,304C869.7,309 870.9,314.7 872,319C873.1,323.3 873.9,326.8 874.5,330C875.1,333.2 875.3,336.7 875.5,338C876.2,338.3 878.8,338.7 880,340C881.2,341.3 882.2,342.7 882.5,346C882.8,349.3 882.4,354.3 882,360C881.6,365.7 880.8,373.3 880,380C879.2,386.7 878,393.3 877,400C876,406.7 875,413.7 874,420C873,426.3 871.5,435 871,438C868.3,438.7 859.3,441.2 855,442C850.7,442.8 846.7,442.8 845,443L837,441L840,390L774,320.5Z" fill="url(#gWallR)" stroke="#1c1c1c" stroke-width="1.45" stroke-linejoin="round" stroke-linecap="round"/>
<path d="M856,352L882,350L880,380L874,420L871,438L855,442L845,443L853.5,390Z" fill="url(#gStripR)"/>
<path d="M708,183.5C709.8,183.3 715.3,182.5 719,182.2C722.7,181.9 727.2,181.5 730,181.5C732.8,181.5 734,181.6 736,182.5C738,183.4 740.2,184.9 742,187C743.8,189.1 745.5,191.8 747,195C748.5,198.2 749.7,201.5 751,206C752.3,210.5 753.7,216.3 755,222C756.3,227.7 757.8,234.8 759,240C760.2,245.2 761.5,250.8 762,253C760,253.7 753.8,255.5 750,257C746.2,258.5 740.8,261.2 739,262C738.5,260.7 737.2,258 736,254C734.8,250 733.3,243.3 732,238C730.7,232.7 729.3,227.2 728,222C726.7,216.8 725.5,211.5 724,207C722.5,202.5 720.7,198.2 719,195C717.3,191.8 715.8,189.8 714,188C712.2,186.2 709,184.7 708,184Z" fill="url(#gTopStrip)"/>
<path d="M708,184C709,184.7 712.2,186.2 714,188C715.8,189.8 717.3,191.8 719,195C720.7,198.2 722.5,202.5 724,207C725.5,211.5 726.7,216.8 728,222C729.3,227.2 730.7,232.7 732,238C733.3,243.3 734.8,249.7 736,254C737.2,258.3 738,260.3 739,264C740,267.7 740.8,272.2 742,276C743.2,279.8 744.5,283.5 746,287C747.5,290.5 749,293.8 751,297C753,300.2 755.3,303.2 758,306C760.7,308.8 763.5,311.5 767,314C770.5,316.5 774.5,319 779,321C783.5,323 788.2,324.3 794,326C799.8,327.7 807.3,329.4 814,331C820.7,332.6 830.7,334.8 834,335.5" fill="none" stroke="#1c1c1c" stroke-width="1.2" stroke-linejoin="round" stroke-linecap="round"/>
<path d="M711.8,189.2C712.6,190.4 715.1,193 716.8,196.2C718.5,199.4 720.3,203.7 721.8,208.2C723.3,212.7 724.5,218 725.8,223.2C727.1,228.4 728.5,233.9 729.8,239.2C731.1,244.5 732.6,250.9 733.8,255.2C735,259.5 735.8,261.5 736.8,265.2C737.8,268.9 738.6,273.4 739.8,277.2C741,281 742.3,284.7 743.8,288.2C745.3,291.7 746.8,295 748.8,298.2C750.8,301.4 753.1,304.4 755.8,307.2C758.5,310 761.3,312.7 764.8,315.2C768.3,317.7 772.3,320.2 776.8,322.2C781.3,324.2 786,325.5 791.8,327.2C797.6,328.9 805.1,330.6 811.8,332.2C818.5,333.8 828.5,335.9 831.8,336.7" fill="none" stroke="#c6c6ca" stroke-width="1.5" stroke-linejoin="round" stroke-linecap="round"/>
<path d="M736,185C736.8,185.7 739.5,187 741,189C742.5,191 743.7,193.8 745,197C746.3,200.2 747.7,203.5 749,208C750.3,212.5 751.7,218.3 753,224C754.3,229.7 755.9,237.2 757,242C758.1,246.8 759.1,251.2 759.5,253" fill="none" stroke="#8f8f8f" stroke-width="0.9" stroke-linejoin="round" stroke-linecap="round"/>
<path d="M739,262C740.8,261.2 746.2,258.5 750,257C753.8,255.5 758,254.1 762,253C766,251.9 769.5,251 774,250.2C778.5,249.5 784,248.8 789,248.5C794,248.2 799,248.1 804,248.5C809,248.9 814.3,249.8 819,251C823.7,252.2 827.8,253.7 832,256C836.2,258.3 840.3,261.7 844,265C847.7,268.3 851,272 854,276C857,280 859.7,284.3 862,289C864.3,293.7 866.3,299 868,304C869.7,309 870.9,314.7 872,319C873.1,323.3 873.9,326.8 874.5,330C875.1,333.2 875.3,336.7 875.5,338" fill="none" stroke="#1c1c1c" stroke-width="1.45" stroke-linejoin="round" stroke-linecap="round"/>
<path d="M822,254C824,255 830.3,257.5 834,260C837.7,262.5 841,265.7 844,269C847,272.3 849.5,276 852,280C854.5,284 856.8,288.5 859,293C861.2,297.5 863.3,302.3 865,307C866.7,311.7 867.8,316.2 869,321C870.2,325.8 871.5,333.5 872,336" fill="none" stroke="#8f8f8f" stroke-width="0.9" stroke-linejoin="round" stroke-linecap="round"/>
<path d="M739,262C739.5,263.8 740.9,269.3 742,273C743.1,276.7 744.2,280.5 745.5,284C746.8,287.5 748.1,290.7 750,294C751.9,297.3 754.3,301 757,304C759.7,307 762.3,309.5 766,312C769.7,314.5 774.3,317 779,319C783.7,321 791.5,323.2 794,324" fill="none" stroke="#1c1c1c" stroke-width="1.4" stroke-linejoin="round" stroke-linecap="round"/>
<path d="M770,280C771.5,279.7 775.8,278.2 779,278C782.2,277.8 785.7,278 789,279C792.3,280 795.8,281.7 799,284C802.2,286.3 805.3,289.7 808,293C810.7,296.3 813.2,300.5 815,304C816.8,307.5 818,311.2 819,314C820,316.8 820.7,319.8 821,321C819.8,320.5 817.2,319.3 814,318C810.8,316.7 806.2,315.2 802,313C797.8,310.8 792.7,307.8 789,305C785.3,302.2 782.5,299 780,296C777.5,293 775.7,289.7 774,287C772.3,284.3 770.7,281.2 770,280Z" fill="#ffffff" stroke="#1c1c1c" stroke-width="1.45" stroke-linejoin="round" stroke-linecap="round"/>
<path d="M745.5,284C747.8,283.7 754.9,282.7 759,282C763.1,281.3 768.2,280.3 770,280" fill="none" stroke="#1c1c1c" stroke-width="1.4" stroke-linejoin="round" stroke-linecap="round"/>
<path d="M746,282.6C748.2,282.2 755,281.1 759,280.4C763,279.7 768.2,278.6 770,278.2" fill="none" stroke="#8f8f8f" stroke-width="0.9" stroke-linejoin="round" stroke-linecap="round"/>
<path d="M771.5,281.5C772.2,282.8 774.2,286.3 776,289C777.8,291.7 779.5,294.7 782,297.5C784.5,300.3 789.5,304.6 791,306" fill="none" stroke="#8f8f8f" stroke-width="0.9" stroke-linejoin="round" stroke-linecap="round"/>
<path d="M782,250C784.8,250.5 793.7,251.3 799,253C804.3,254.7 809.5,257.2 814,260C818.5,262.8 822.3,266.2 826,270C829.7,273.8 833,278.2 836,283C839,287.8 841.8,293.8 844,299C846.2,304.2 847.8,309.5 849,314C850.2,318.5 850.9,321.7 851.5,326C852.1,330.3 852.3,337.7 852.5,340" fill="none" stroke="#8f8f8f" stroke-width="1" stroke-linejoin="round" stroke-linecap="round"/>
<path d="M787,249.5C789.8,250.1 798.7,251.2 804,253C809.3,254.8 814.5,257.2 819,260C823.5,262.8 827.3,266.2 831,270C834.7,273.8 838.1,278.2 841,283C843.9,287.8 846.5,293.8 848.5,299C850.5,304.2 851.8,309.5 853,314C854.2,318.5 854.9,321.7 855.5,326C856.1,330.3 856.3,337.7 856.5,340" fill="none" stroke="#1c1c1c" stroke-width="1.1" stroke-linejoin="round" stroke-linecap="round"/>
<path d="M821,320C821.3,321.3 822.6,325.6 823,328C823.4,330.4 823.4,333.4 823.5,334.5" fill="none" stroke="#1c1c1c" stroke-width="1.35" stroke-linejoin="round" stroke-linecap="round"/>
<path d="M824,335C825.8,335.6 831.3,337.6 835,338.5C838.7,339.4 842.7,340 846,340.5C849.3,341 851.8,341.5 855,341.5C858.2,341.5 861.6,341.1 865,340.5C868.4,339.9 873.8,338.4 875.5,338" fill="none" stroke="#1c1c1c" stroke-width="1.4" stroke-linejoin="round" stroke-linecap="round"/>
<path d="M853,343C853.4,345 855.1,350.5 855.5,355C855.9,359.5 855.8,364.2 855.5,370C855.2,375.8 854.3,383.3 853.5,390C852.7,396.7 851.5,403.3 850.5,410C849.5,416.7 848.4,424.5 847.5,430C846.6,435.5 845.4,440.8 845,443" fill="none" stroke="#1c1c1c" stroke-width="1.4" stroke-linejoin="round" stroke-linecap="round"/>
<path d="M850,344C850.4,345.8 851.9,350.7 852.3,355C852.7,359.3 852.6,364.2 852.3,370C852,375.8 851.1,383.3 850.3,390C849.5,396.7 848.3,403.3 847.3,410C846.3,416.7 845.2,424.6 844.3,430C843.4,435.4 842.4,440.4 842,442.5" fill="none" stroke="#8f8f8f" stroke-width="1" stroke-linejoin="round" stroke-linecap="round"/>
<path d="M878,341C878.2,342.2 879.2,344.8 879.5,348C879.8,351.2 879.8,354.7 879.5,360C879.2,365.3 878.3,373.3 877.5,380C876.7,386.7 875.5,393.3 874.5,400C873.5,406.7 872.4,413.6 871.5,420C870.6,426.4 869.4,435.4 869,438.5" fill="none" stroke="#8f8f8f" stroke-width="1" stroke-linejoin="round" stroke-linecap="round"/>
<path d="M683.5,290.5C683.5,284.4 683.6,265.1 683.8,254C684,242.9 684.2,231.5 684.5,224C684.8,216.5 684.9,213.3 685.5,209C686.1,204.7 686.8,201.2 688,198C689.2,194.8 691,192.1 693,190C695,187.9 697.5,186.6 700,185.5C702.5,184.4 706.7,183.8 708,183.5C709.8,183.3 715.3,182.5 719,182.2C722.7,181.9 727.2,181.5 730,181.5C732.8,181.5 734,181.6 736,182.5C738,183.4 740.2,184.9 742,187C743.8,189.1 745.5,191.8 747,195C748.5,198.2 749.7,201.5 751,206C752.3,210.5 753.7,216.3 755,222C756.3,227.7 757.8,234.8 759,240C760.2,245.2 761.5,250.8 762,253C764,252.5 769.5,251 774,250.2C778.5,249.5 784,248.8 789,248.5C794,248.2 799,248.1 804,248.5C809,248.9 814.3,249.8 819,251C823.7,252.2 827.8,253.7 832,256C836.2,258.3 840.3,261.7 844,265C847.7,268.3 851,272 854,276C857,280 859.7,284.3 862,289C864.3,293.7 866.3,299 868,304C869.7,309 870.9,314.7 872,319C873.1,323.3 873.9,326.8 874.5,330C875.1,333.2 875.3,336.7 875.5,338C876.2,338.3 878.8,338.7 880,340C881.2,341.3 882.2,342.7 882.5,346C882.8,349.3 882.4,354.3 882,360C881.6,365.7 880.8,373.3 880,380C879.2,386.7 878,393.3 877,400C876,406.7 875,413.7 874,420C873,426.3 871.5,435 871,438C868.3,438.7 859.3,441.2 855,442C850.7,442.8 846.7,442.8 845,443L837,441L840,390L774,320.5Z" fill="none" stroke="#1c1c1c" stroke-width="1.45" stroke-linejoin="round" stroke-linecap="round"/>
<path d="M819,445.5 L819.5,448.0 Q824.5,452.0 829.5,448.0 L830,445.5 Z" fill="#ececee" stroke="#555" stroke-width="1.1" stroke-linejoin="round" stroke-linecap="round"/><path d="M845,441.5 L845.5,444.0 Q850.25,448.0 855.0,444.0 L855.5,441.5 Z" fill="#ececee" stroke="#555" stroke-width="1.1" stroke-linejoin="round" stroke-linecap="round"/>
<path d="M316,420L700,352L800,322L822,333L830,340L838.5,383.7L316.8,472Z" fill="#fbfbfc"/>
<path d="M316.8,438L700,372L700,383L316.8,449.2Z" fill="#ebebed"/>
<path d="M316.8,449.2L700,384.4" fill="none" stroke="#1c1c1c" stroke-width="1.2" stroke-linejoin="round" stroke-linecap="round"/>
<path d="M318,463.6L828,379.2L838.5,383.7L316.8,472Z" fill="#f8f8f9"/>
<path d="M318,463.6L828,379.2L838.5,383.7" fill="none" stroke="#6a6a6a" stroke-width="1" stroke-linejoin="round" stroke-linecap="round"/>
<path d="M316.8,472L838.5,383.7L837.2,442.2L314.4,543.6Z" fill="url(#gBase)" stroke="#1c1c1c" stroke-width="1.35" stroke-linejoin="round" stroke-linecap="round"/>
<path d="M473,421.2L489.5,418.3L514,430L497,433.8Z" fill="#fdfdfd" stroke="#9a9a9a" stroke-width="0.8" stroke-linejoin="round" stroke-linecap="round"/>
<path d="M473.5,421.4L496,434" fill="none" stroke="#1c1c1c" stroke-width="1.4" stroke-linejoin="round" stroke-linecap="round"/>
<path d="M476,420.9L498.5,433.4" fill="none" stroke="#8a8a8a" stroke-width="0.8" stroke-linejoin="round" stroke-linecap="round"/>
<path d="M695.5,381.8L746,370.7L786.5,384.4L724,395.5Z" fill="#ffffff" stroke="#555" stroke-width="0.9" stroke-linejoin="round" stroke-linecap="round"/>
<path d="M748,370.2L788,384" fill="none" stroke="#1c1c1c" stroke-width="2" stroke-linejoin="round" stroke-linecap="round"/>
<circle cx="753.4000000000001" cy="381.2" r="1.4" fill="#ddd" stroke="#555" stroke-width="0.8"/>
<path d="M694,390.5L707.5,398.5" fill="none" stroke="#1c1c1c" stroke-width="1.3" stroke-linejoin="round" stroke-linecap="round"/>
<path d="M696.5,389.3L710,397.3" fill="none" stroke="#8a8a8a" stroke-width="0.8" stroke-linejoin="round" stroke-linecap="round"/>
<path d="M746,370.5L752,366.5L762,369" fill="none" stroke="#1c1c1c" stroke-width="1" stroke-linejoin="round" stroke-linecap="round"/>
<path d="M762,371L766,366" fill="none" stroke="#1c1c1c" stroke-width="1.4" stroke-linejoin="round" stroke-linecap="round"/>
<path d="M215,309L223,318L250,315L288,310.4L300,283L310,339L240,349Z" fill="#f8f1dc"/><path d="M222,318.3L288,310.4" fill="none" stroke="#1c1c1c" stroke-width="1.3" stroke-linejoin="round" stroke-linecap="round"/>
<path d="M280,333L288,310L300,283C300.5,282.4 301.3,280.5 303,279.5C304.7,278.5 308.8,277.4 310,277L530,252L710,230.6L818,218.4C819.6,218.4 824.8,217.8 827.6,218.4C830.4,219 833.6,221.4 834.8,222L850,247C850.5,247.7 852.9,249.3 852.8,251.4C852.7,253.5 849.8,258.4 849.2,259.8L832.4,283.8L808.4,318.6L794,342.6L784.4,357C783.2,358.2 779.8,362.6 777,364.5C774.2,366.4 771.3,367.5 767.6,368.4C763.9,369.3 757.1,369.6 755,369.8C752.7,370.1 753.7,369.6 741,371.4C728.3,373.2 697.1,377.5 678.6,380.5C660.1,383.5 653.1,385.6 630,389.5C606.9,393.4 576.7,397.8 540,403.6C503.3,409.4 447.2,418.4 410,424.5C372.8,430.6 332.5,437.4 317,440L290,445L272,389Z" fill="url(#gBlockTop)" stroke="#1c1c1c" stroke-width="1.45" stroke-linejoin="round" stroke-linecap="round"/>
<path d="M319,325C334.2,322.8 378.2,316.4 410,312C441.8,307.6 476.7,303.2 510,298.6C543.3,294 576.7,289.3 610,284.5C643.3,279.7 670,274.9 710,269.6C750,264.3 826.5,255.4 849.8,252.6L849.2,259.8L832.4,283.8L808.4,318.6L794,342.6L784.4,357C783.2,358.2 779.8,362.6 777,364.5C774.2,366.4 771.3,367.5 767.6,368.4C763.9,369.3 757.1,369.6 755,369.8C752.7,370.1 753.7,369.6 741,371.4C728.3,373.2 697.1,377.5 678.6,380.5C660.1,383.5 653.1,385.6 630,389.5C606.9,393.4 576.7,397.8 540,403.6C503.3,409.4 447.2,418.4 410,424.5C372.8,430.6 332.5,437.4 317,440L290,445L295,384Z" fill="url(#gBlockFace)"/>
<path d="M319,325C334.2,322.8 378.2,316.4 410,312C441.8,307.6 476.7,303.2 510,298.6C543.3,294 576.7,289.3 610,284.5C643.3,279.7 670,274.9 710,269.6C750,264.3 826.5,255.4 849.8,252.6" fill="none" stroke="#fffaf0" stroke-width="1.4" stroke-linejoin="round" stroke-linecap="round"/>
<path d="M319,326.2C334.2,324 378.2,317.6 410,313.2C441.8,308.8 476.7,304.4 510,299.8C543.3,295.2 576.7,290.5 610,285.7C643.3,280.9 670,276.1 710,270.8C750,265.5 826.5,256.6 849.8,253.8" fill="none" stroke="#d9cdbd" stroke-width="0.8" stroke-linejoin="round" stroke-linecap="round"/>
<path d="M300.5,284C300.8,286.2 301.1,293 302,297C302.9,301 304.3,304.7 306,308C307.7,311.3 309.8,314.2 312,317C314.2,319.8 317.8,323.7 319,325" fill="none" stroke="#d8cfb8" stroke-width="1" stroke-linejoin="round" stroke-linecap="round"/>
<path d="M319,325L302,363L296,381" fill="none" stroke="#cfc6b2" stroke-width="1" stroke-linejoin="round" stroke-linecap="round"/>
<path d="M834.8,222L850,247C850.5,247.7 852.9,249.3 852.8,251.4C852.7,253.5 849.8,258.4 849.2,259.8L832.4,283.8L808.4,318.6L794,342.6L784.4,357C783.2,358.2 779.8,362.6 777,364.5C774.2,366.4 771.3,367.5 767.6,368.4C763.9,369.3 757.1,369.6 755,369.8C752.7,370.1 753.7,369.6 741,371.4C728.3,373.2 697.1,377.5 678.6,380.5C660.1,383.5 653.1,385.6 630,389.5C606.9,393.4 576.7,397.8 540,403.6C503.3,409.4 447.2,418.4 410,424.5C372.8,430.6 332.5,437.4 317,440" fill="none" stroke="#1c1c1c" stroke-width="1.45" stroke-linejoin="round" stroke-linecap="round"/>
<path d="M282,549 L282.5,552.0 Q288.5,556.0 294.5,552.0 L295,549 Z" fill="#ececee" stroke="#555" stroke-width="1.1" stroke-linejoin="round" stroke-linecap="round"/><path d="M313,542.5 L313.5,545.5 Q319.5,549.5 325.5,545.5 L326,542.5 Z" fill="#ececee" stroke="#555" stroke-width="1.1" stroke-linejoin="round" stroke-linecap="round"/>
<path d="M163,468C162.2,458.3 159.6,425.5 158,410C156.4,394.5 154.6,387.5 153.5,375C152.4,362.5 152.1,346.7 151.5,335C150.9,323.3 150.4,315 150,305C149.6,295 149.2,282.2 149,275C148.8,267.8 148.4,265.8 148.6,262C148.8,258.2 149.3,254.8 150,252C150.7,249.2 151.8,246.9 153,245C154.2,243.1 155.5,241.6 157,240.5C158.5,239.4 161.2,238.9 162,238.6C165,238.3 175,237.5 180,237C185,236.5 189.2,235.7 192,235.5C194.8,235.3 195.5,235.6 197,236C198.5,236.4 199.7,236.8 201,238C202.3,239.2 203.7,240.8 205,243C206.3,245.2 207.7,247.3 209,251C210.3,254.7 211.7,259.3 213,265C214.3,270.7 215.8,279.2 217,285C218.2,290.8 219,294.7 220,300C221,305.3 222.5,314.2 223,317C226.7,317.1 239.2,317 245,317.5C250.8,318 253.8,318.8 258,320C262.2,321.2 266.3,322.5 270,325C273.7,327.5 276.7,330.3 280,335C283.3,339.7 287,346.8 290,353C293,359.2 295.8,365.5 298,372C300.2,378.5 301.7,385.7 303,392C304.3,398.3 305.2,404.2 306,410C306.8,415.8 307.2,424.2 307.5,427C308.2,427.8 310.8,429 312,432C313.2,435 313.8,438.7 314.5,445C315.2,451.3 315.6,462.5 316,470C316.4,477.5 316.9,481.7 317,490C317.1,498.3 316.7,511 316.4,520C316.1,529 315.2,540 315,544L278,550.5L272,552C263.3,545.7 235.3,525.7 220,514C204.7,502.3 189,489.2 180,482C171,474.8 168.8,473.3 166,471C163.2,468.7 163.5,468.5 163,468Z" fill="url(#gWall)" stroke="#1c1c1c" stroke-width="1.45" stroke-linejoin="round" stroke-linecap="round"/>
<path d="M278.5,445L315,441L316.6,520L315,544L278,550.5Z" fill="url(#gStrip)"/>
<path d="M160,239.5C161,240.4 164,242.4 166,245C168,247.6 170,250.3 172,255C174,259.7 176.2,266.3 178,273C179.8,279.7 181.5,288 183,295C184.5,302 185.8,309.2 187,315C188.2,320.8 189.5,327.5 190,330C191.7,329 196,325.8 200,324C204,322.2 210.2,320.5 214,319.5C217.8,318.5 221.5,318.1 223,317.8C222.5,314.8 221,305.5 220,300C219,294.5 218.2,290.8 217,285C215.8,279.2 214.3,270.7 213,265C211.7,259.3 210.3,254.7 209,251C207.7,247.3 206.3,245.2 205,243C203.7,240.8 202.3,239.2 201,238C199.7,236.8 198.5,236.4 197,236C195.5,235.6 194.8,235.3 192,235.5C189.2,235.7 185,236.5 180,237C175,237.5 165,238.3 162,238.6Z" fill="url(#gTopStrip)"/>
<path d="M160,239.5C161,240.4 164,242.4 166,245C168,247.6 170,250.3 172,255C174,259.7 176.2,266.3 178,273C179.8,279.7 181.5,288 183,295C184.5,302 185.8,309.2 187,315C188.2,320.8 189.5,327.5 190,330" fill="none" stroke="#1c1c1c" stroke-width="1.2" stroke-linejoin="round" stroke-linecap="round"/>
<path d="M157.8,241C158.8,242 162,244.3 164,247C166,249.7 168,252.3 170,257C172,261.7 174.2,268.3 176,275C177.8,281.7 179.5,290 181,297C182.5,304 183.9,311.3 185,317C186.1,322.7 187.3,328.7 187.8,331" fill="none" stroke="#c6c6ca" stroke-width="1.6" stroke-linejoin="round" stroke-linecap="round"/>
<path d="M190,330.5C191.7,329.4 196,325.8 200,324C204,322.2 209,320.6 214,319.5C219,318.4 224.8,317.8 230,317.5C235.2,317.2 240.3,317.1 245,317.5C249.7,317.9 253.8,318.8 258,320C262.2,321.2 266.3,322.5 270,325C273.7,327.5 276.7,330.3 280,335C283.3,339.7 287,346.8 290,353C293,359.2 295.8,365.5 298,372C300.2,378.5 301.7,385.7 303,392C304.3,398.3 305.2,404.2 306,410C306.8,415.8 307.2,424.2 307.5,427" fill="none" stroke="#1c1c1c" stroke-width="1.45" stroke-linejoin="round" stroke-linecap="round"/>
<path d="M190,330.5C191.7,329.4 196,325.8 200,324C204,322.2 209,320.6 214,319.5C219,318.4 224.8,317.8 230,317.5C235.2,317.2 240.3,317.1 245,317.5C249.7,317.9 253.8,318.8 258,320C262.2,321.2 266.3,322.5 270,325C273.7,327.5 276.7,330.3 280,335C283.3,339.7 287,346.8 290,353C293,359.2 295.8,365.5 298,372C300.2,378.5 301.7,385.7 303,392C304.3,398.3 305.2,404.2 306,410C306.8,415.8 307.2,424.2 307.5,427C306.8,427.3 305.9,428.2 303,429C300.1,429.8 295,431.2 290,432C285,432.8 275.8,433.7 273,434C271.2,433.2 265.5,430.9 262,429C258.5,427.1 253.7,423.6 252,422.5C251.8,421.2 251.5,418.4 251,415C250.5,411.6 250,406.5 249,402C248,397.5 246.8,393 245,388C243.2,383 240.5,376.7 238,372C235.5,367.3 232.3,362.8 230,360C227.7,357.2 226,356.2 224,355C222,353.8 220.3,353.2 218,353C215.7,352.8 213.7,353.3 210,354C206.3,354.7 198.3,356.5 196,357C195.5,355.5 194,352.4 193,348C192,343.6 190.5,333.4 190,330.5Z" fill="url(#gArmL)"/>
<path d="M262,323C263.8,324.3 269.5,327.3 273,331C276.5,334.7 280,339.8 283,345C286,350.2 288.7,356.2 291,362C293.3,367.8 295.3,374 297,380C298.7,386 299.8,392.2 301,398C302.2,403.8 303.2,410 304,415C304.8,420 305.2,425.8 305.5,428" fill="none" stroke="#8f8f8f" stroke-width="0.9" stroke-linejoin="round" stroke-linecap="round"/>
<path d="M190,330.5C190.5,333.4 192,343.6 193,348C194,352.4 194.8,353.7 196,357C197.2,360.3 198,363.5 200,368C202,372.5 205,379 208,384C211,389 214.3,394 218,398C221.7,402 226,405 230,408C234,411 238.3,413.6 242,416C245.7,418.4 248.7,420.3 252,422.5C255.3,424.7 258.5,427.1 262,429C265.5,430.9 271.2,433.2 273,434" fill="none" stroke="#1c1c1c" stroke-width="1.45" stroke-linejoin="round" stroke-linecap="round"/>
<path d="M183,320C183.7,323.3 185.2,333 187,340C188.8,347 191.3,355 194,362C196.7,369 199.7,376 203,382C206.3,388 210.2,393.5 214,398C217.8,402.5 221.7,405.5 226,409C230.3,412.5 235.2,415.8 240,419C244.8,422.2 250.7,425.5 255,428C259.3,430.5 263.3,432 266,434C268.7,436 269.7,437.3 271,440C272.3,442.7 273.2,443.3 274,450C274.8,456.7 275.6,468.3 276,480C276.4,491.7 276.6,508.3 276.5,520C276.4,531.7 275.7,545 275.5,550" fill="none" stroke="#8f8f8f" stroke-width="1" stroke-linejoin="round" stroke-linecap="round"/>
<path d="M196,357C198.3,356.5 206.3,354.7 210,354C213.7,353.3 215.7,352.8 218,353C220.3,353.2 222,353.8 224,355C226,356.2 227.7,357.2 230,360C232.3,362.8 235.5,367.3 238,372C240.5,376.7 243.2,383 245,388C246.8,393 248,397.5 249,402C250,406.5 250.5,411.6 251,415C251.5,418.4 251.8,421.2 252,422.5C250.3,421.4 245.7,418.4 242,416C238.3,413.6 234,411 230,408C226,405 221.7,402 218,398C214.3,394 211,389 208,384C205,379 202,372.5 200,368C198,363.5 196.7,358.8 196,357Z" fill="#f7f7f9" stroke="#1c1c1c" stroke-width="1.45" stroke-linejoin="round" stroke-linecap="round"/>
<path d="M231,361.5C231.7,363.1 233.9,367.9 235.3,371C236.7,374.1 238,377.3 239.5,380C241,382.7 243.5,385.8 244.3,387" fill="none" stroke="#1c1c1c" stroke-width="1" stroke-linejoin="round" stroke-linecap="round"/>
<path d="M196,354.5C197.7,354.2 202.8,353.4 206,353C209.2,352.6 213.5,352.2 215,352" fill="none" stroke="#8f8f8f" stroke-width="0.9" stroke-linejoin="round" stroke-linecap="round"/>
<path d="M220,320C221.7,320.8 226.7,322.8 230,325C233.3,327.2 236.7,329.7 240,333C243.3,336.3 247,340.5 250,345C253,349.5 255.8,355 258,360C260.2,365 261.6,369.7 263,375C264.4,380.3 265.6,386.2 266.5,392C267.4,397.8 267.9,403.3 268.5,410C269.1,416.7 269.8,428.3 270,432" fill="none" stroke="#8f8f8f" stroke-width="1" stroke-linejoin="round" stroke-linecap="round"/>
<path d="M225,319.5C226.8,320.4 232.5,322.6 236,325C239.5,327.4 242.8,330.5 246,334C249.2,337.5 252.2,341.5 255,346C257.8,350.5 260.8,355.7 263,361C265.2,366.3 266.6,372.3 268,378C269.4,383.7 270.6,389.3 271.5,395C272.4,400.7 273,405.8 273.5,412C274,418.2 274.3,428.7 274.5,432" fill="none" stroke="#1c1c1c" stroke-width="1.1" stroke-linejoin="round" stroke-linecap="round"/>
<path d="M273,434C275.8,433.7 285,432.8 290,432C295,431.2 300.1,429.8 303,429C305.9,428.2 306.8,427.3 307.5,427" fill="none" stroke="#1c1c1c" stroke-width="1.4" stroke-linejoin="round" stroke-linecap="round"/>
<path d="M273,434C273.6,435.8 275.6,439 276.5,445C277.4,451 278,460.8 278.5,470C279,479.2 279.2,490 279.3,500C279.4,510 279,521.6 278.8,530C278.6,538.4 278.1,547.1 278,550.5" fill="none" stroke="#1c1c1c" stroke-width="1.35" stroke-linejoin="round" stroke-linecap="round"/>
<path d="M309,431C309.3,433.3 310.4,438.5 311,445C311.6,451.5 312.1,462.5 312.5,470C312.9,477.5 313.5,481.7 313.6,490C313.7,498.3 313.3,510.9 313,520C312.7,529.1 311.8,540.4 311.6,544.5" fill="none" stroke="#8f8f8f" stroke-width="1" stroke-linejoin="round" stroke-linecap="round"/>
<path d="M163,468C162.2,458.3 159.6,425.5 158,410C156.4,394.5 154.6,387.5 153.5,375C152.4,362.5 152.1,346.7 151.5,335C150.9,323.3 150.4,315 150,305C149.6,295 149.2,282.2 149,275C148.8,267.8 148.4,265.8 148.6,262C148.8,258.2 149.3,254.8 150,252C150.7,249.2 151.8,246.9 153,245C154.2,243.1 155.5,241.6 157,240.5C158.5,239.4 161.2,238.9 162,238.6C165,238.3 175,237.5 180,237C185,236.5 189.2,235.7 192,235.5C194.8,235.3 195.5,235.6 197,236C198.5,236.4 199.7,236.8 201,238C202.3,239.2 203.7,240.8 205,243C206.3,245.2 207.7,247.3 209,251C210.3,254.7 211.7,259.3 213,265C214.3,270.7 215.8,279.2 217,285C218.2,290.8 219,294.7 220,300C221,305.3 222.5,314.2 223,317C226.7,317.1 239.2,317 245,317.5C250.8,318 253.8,318.8 258,320C262.2,321.2 266.3,322.5 270,325C273.7,327.5 276.7,330.3 280,335C283.3,339.7 287,346.8 290,353C293,359.2 295.8,365.5 298,372C300.2,378.5 301.7,385.7 303,392C304.3,398.3 305.2,404.2 306,410C306.8,415.8 307.2,424.2 307.5,427C308.2,427.8 310.8,429 312,432C313.2,435 313.8,438.7 314.5,445C315.2,451.3 315.6,462.5 316,470C316.4,477.5 316.9,481.7 317,490C317.1,498.3 316.7,511 316.4,520C316.1,529 315.2,540 315,544L278,550.5L272,552C263.3,545.7 235.3,525.7 220,514C204.7,502.3 189,489.2 180,482C171,474.8 168.8,473.3 166,471C163.2,468.7 163.5,468.5 163,468Z" fill="none" stroke="#1c1c1c" stroke-width="1.45" stroke-linejoin="round" stroke-linecap="round"/>
<path d="M190,330.5C191.7,329.4 196,325.8 200,324C204,322.2 209,320.6 214,319.5C219,318.4 224.8,317.8 230,317.5C235.2,317.2 240.3,317.1 245,317.5C249.7,317.9 255.8,319.6 258,320" fill="none" stroke="#1c1c1c" stroke-width="1.45" stroke-linejoin="round" stroke-linecap="round"/>
<defs><linearGradient id="ca1" gradientUnits="userSpaceOnUse" x1="325" y1="299" x2="410" y2="409"><stop offset="0" stop-color="#f6b57a" stop-opacity="0.85"/><stop offset="0.35" stop-color="#f29a48"/><stop offset="0.7" stop-color="#ef841f"/><stop offset="1" stop-color="#ee7f1a"/></linearGradient><linearGradient id="ca1s" gradientUnits="userSpaceOnUse" x1="325" y1="299" x2="410" y2="409"><stop offset="0" stop-color="#a08a78" stop-opacity="0.6"/><stop offset="0.35" stop-color="#5a4030"/><stop offset="0.6" stop-color="#1f0f04"/><stop offset="1" stop-color="#140a02"/></linearGradient></defs><path d="M321.5,296.5C321.9,296 320.7,294.3 323.8,293.5C326.8,292.7 334,291 340,291.5C346,292 353.3,293.4 360,296.5C366.7,299.6 374,304.4 380,310C386,315.6 391,322 396,330C401,338 406.3,349.7 410,358C413.7,366.3 416.7,376.3 418,380L430,376.5L410,427L376,389L388,385C387.3,381.7 386.3,372.7 384,365C381.7,357.3 378,346.7 374,339C370,331.3 365.3,324.5 360,319C354.7,313.5 347.7,309.1 342,306C336.3,302.9 329,301.6 326,300.5C323,299.4 324.1,299.7 323.8,299.5L321.5,296.5Z" fill="url(#ca1)" stroke="url(#ca1s)" stroke-width="2.3" stroke-linejoin="round" stroke-linecap="round"/><defs><linearGradient id="ca2" gradientUnits="userSpaceOnUse" x1="550" y1="271" x2="665" y2="429"><stop offset="0" stop-color="#f6b57a" stop-opacity="0.85"/><stop offset="0.35" stop-color="#f29a48"/><stop offset="0.7" stop-color="#ef841f"/><stop offset="1" stop-color="#ee7f1a"/></linearGradient><linearGradient id="ca2s" gradientUnits="userSpaceOnUse" x1="550" y1="271" x2="665" y2="429"><stop offset="0" stop-color="#a08a78" stop-opacity="0.6"/><stop offset="0.35" stop-color="#5a4030"/><stop offset="0.6" stop-color="#1f0f04"/><stop offset="1" stop-color="#140a02"/></linearGradient></defs><path d="M545,268.5C545.4,268 544.8,266.3 547.2,265.5C549.8,264.7 554.5,263.4 560,263.5C565.5,263.6 573.3,264.1 580,266C586.7,267.9 593.3,270.8 600,275C606.7,279.2 613.3,284.3 620,291C626.7,297.7 634,307 640,315C646,323 651,330.3 656,339C661,347.7 666.3,359.3 670,367C673.7,374.7 676.7,382 678,385L693,380L668,449L622,397L638,391C637,387.3 634.7,377.7 632,369C629.3,360.3 626.3,348.7 622,339C617.7,329.3 612,319.2 606,311C600,302.8 592.7,295.5 586,290C579.3,284.5 572,280.9 566,278C560,275.1 553.1,273.6 550,272.5C546.9,271.4 547.7,271.7 547.2,271.5L545,268.5Z" fill="url(#ca2)" stroke="url(#ca2s)" stroke-width="2.6" stroke-linejoin="round" stroke-linecap="round"/><defs><linearGradient id="ca3" gradientUnits="userSpaceOnUse" x1="752" y1="242" x2="836" y2="354"><stop offset="0" stop-color="#f6b57a" stop-opacity="0.85"/><stop offset="0.35" stop-color="#f29a48"/><stop offset="0.7" stop-color="#ef841f"/><stop offset="1" stop-color="#ee7f1a"/></linearGradient><linearGradient id="ca3s" gradientUnits="userSpaceOnUse" x1="752" y1="242" x2="836" y2="354"><stop offset="0" stop-color="#a08a78" stop-opacity="0.6"/><stop offset="0.35" stop-color="#5a4030"/><stop offset="0.6" stop-color="#1f0f04"/><stop offset="1" stop-color="#140a02"/></linearGradient></defs><path d="M748.6,241.2C749,240.7 747.3,238.8 750.8,238.2C754.4,237.6 762.8,236.2 770,237.6C777.2,239 787,242.7 794,246.6C801,250.5 806.8,255.4 812,261C817.2,266.6 821.2,273.8 825.2,280.2C829.2,286.6 833,293.6 836,299.4C839,305.2 841.4,310.8 843.2,315C845,319.2 846.2,323 846.8,324.6L857,322.2L838.4,369L804.8,334.2L813.2,331.8C812.8,329 812.2,320.8 810.8,315C809.4,309.2 807.2,302.8 804.8,297C802.4,291.2 799.8,285.8 796.4,280.2C793,274.6 788.8,268.4 784.4,263.4C780,258.4 774.4,253.3 770,250.2C765.6,247.1 761.2,245.6 758,244.6C754.8,243.6 752,244.3 750.8,244.2L748.6,241.2Z" fill="url(#ca3)" stroke="url(#ca3s)" stroke-width="2.3" stroke-linejoin="round" stroke-linecap="round"/></g>
<g transform="translate(-4,754)"><path d="M683.5,290.5C683.5,284.4 683.6,265.1 683.8,254C684,242.9 684.2,231.5 684.5,224C684.8,216.5 684.9,213.3 685.5,209C686.1,204.7 686.8,201.2 688,198C689.2,194.8 691,192.1 693,190C695,187.9 697.5,186.6 700,185.5C702.5,184.4 706.7,183.8 708,183.5C709.8,183.3 715.3,182.5 719,182.2C722.7,181.9 727.2,181.5 730,181.5C732.8,181.5 734,181.6 736,182.5C738,183.4 740.2,184.9 742,187C743.8,189.1 745.5,191.8 747,195C748.5,198.2 749.7,201.5 751,206C752.3,210.5 753.7,216.3 755,222C756.3,227.7 757.8,234.8 759,240C760.2,245.2 761.5,250.8 762,253C764,252.5 769.5,251 774,250.2C778.5,249.5 784,248.8 789,248.5C794,248.2 799,248.1 804,248.5C809,248.9 814.3,249.8 819,251C823.7,252.2 827.8,253.7 832,256C836.2,258.3 840.3,261.7 844,265C847.7,268.3 851,272 854,276C857,280 859.7,284.3 862,289C864.3,293.7 866.3,299 868,304C869.7,309 870.9,314.7 872,319C873.1,323.3 873.9,326.8 874.5,330C875.1,333.2 875.3,336.7 875.5,338C876.2,338.3 878.8,338.7 880,340C881.2,341.3 882.2,342.7 882.5,346C882.8,349.3 882.4,354.3 882,360C881.6,365.7 880.8,373.3 880,380C879.2,386.7 878,393.3 877,400C876,406.7 875,413.7 874,420C873,426.3 871.5,435 871,438C868.3,438.7 859.3,441.2 855,442C850.7,442.8 846.7,442.8 845,443L837,441L840,390L774,320.5Z" fill="url(#gWallR)" stroke="#1c1c1c" stroke-width="1.45" stroke-linejoin="round" stroke-linecap="round"/>
<path d="M856,352L882,350L880,380L874,420L871,438L855,442L845,443L853.5,390Z" fill="url(#gStripR)"/>
<path d="M708,183.5C709.8,183.3 715.3,182.5 719,182.2C722.7,181.9 727.2,181.5 730,181.5C732.8,181.5 734,181.6 736,182.5C738,183.4 740.2,184.9 742,187C743.8,189.1 745.5,191.8 747,195C748.5,198.2 749.7,201.5 751,206C752.3,210.5 753.7,216.3 755,222C756.3,227.7 757.8,234.8 759,240C760.2,245.2 761.5,250.8 762,253C760,253.7 753.8,255.5 750,257C746.2,258.5 740.8,261.2 739,262C738.5,260.7 737.2,258 736,254C734.8,250 733.3,243.3 732,238C730.7,232.7 729.3,227.2 728,222C726.7,216.8 725.5,211.5 724,207C722.5,202.5 720.7,198.2 719,195C717.3,191.8 715.8,189.8 714,188C712.2,186.2 709,184.7 708,184Z" fill="url(#gTopStrip)"/>
<path d="M708,184C709,184.7 712.2,186.2 714,188C715.8,189.8 717.3,191.8 719,195C720.7,198.2 722.5,202.5 724,207C725.5,211.5 726.7,216.8 728,222C729.3,227.2 730.7,232.7 732,238C733.3,243.3 734.8,249.7 736,254C737.2,258.3 738,260.3 739,264C740,267.7 740.8,272.2 742,276C743.2,279.8 744.5,283.5 746,287C747.5,290.5 749,293.8 751,297C753,300.2 755.3,303.2 758,306C760.7,308.8 763.5,311.5 767,314C770.5,316.5 774.5,319 779,321C783.5,323 788.2,324.3 794,326C799.8,327.7 807.3,329.4 814,331C820.7,332.6 830.7,334.8 834,335.5" fill="none" stroke="#1c1c1c" stroke-width="1.2" stroke-linejoin="round" stroke-linecap="round"/>
<path d="M711.8,189.2C712.6,190.4 715.1,193 716.8,196.2C718.5,199.4 720.3,203.7 721.8,208.2C723.3,212.7 724.5,218 725.8,223.2C727.1,228.4 728.5,233.9 729.8,239.2C731.1,244.5 732.6,250.9 733.8,255.2C735,259.5 735.8,261.5 736.8,265.2C737.8,268.9 738.6,273.4 739.8,277.2C741,281 742.3,284.7 743.8,288.2C745.3,291.7 746.8,295 748.8,298.2C750.8,301.4 753.1,304.4 755.8,307.2C758.5,310 761.3,312.7 764.8,315.2C768.3,317.7 772.3,320.2 776.8,322.2C781.3,324.2 786,325.5 791.8,327.2C797.6,328.9 805.1,330.6 811.8,332.2C818.5,333.8 828.5,335.9 831.8,336.7" fill="none" stroke="#c6c6ca" stroke-width="1.5" stroke-linejoin="round" stroke-linecap="round"/>
<path d="M736,185C736.8,185.7 739.5,187 741,189C742.5,191 743.7,193.8 745,197C746.3,200.2 747.7,203.5 749,208C750.3,212.5 751.7,218.3 753,224C754.3,229.7 755.9,237.2 757,242C758.1,246.8 759.1,251.2 759.5,253" fill="none" stroke="#8f8f8f" stroke-width="0.9" stroke-linejoin="round" stroke-linecap="round"/>
<path d="M739,262C740.8,261.2 746.2,258.5 750,257C753.8,255.5 758,254.1 762,253C766,251.9 769.5,251 774,250.2C778.5,249.5 784,248.8 789,248.5C794,248.2 799,248.1 804,248.5C809,248.9 814.3,249.8 819,251C823.7,252.2 827.8,253.7 832,256C836.2,258.3 840.3,261.7 844,265C847.7,268.3 851,272 854,276C857,280 859.7,284.3 862,289C864.3,293.7 866.3,299 868,304C869.7,309 870.9,314.7 872,319C873.1,323.3 873.9,326.8 874.5,330C875.1,333.2 875.3,336.7 875.5,338" fill="none" stroke="#1c1c1c" stroke-width="1.45" stroke-linejoin="round" stroke-linecap="round"/>
<path d="M822,254C824,255 830.3,257.5 834,260C837.7,262.5 841,265.7 844,269C847,272.3 849.5,276 852,280C854.5,284 856.8,288.5 859,293C861.2,297.5 863.3,302.3 865,307C866.7,311.7 867.8,316.2 869,321C870.2,325.8 871.5,333.5 872,336" fill="none" stroke="#8f8f8f" stroke-width="0.9" stroke-linejoin="round" stroke-linecap="round"/>
<path d="M739,262C739.5,263.8 740.9,269.3 742,273C743.1,276.7 744.2,280.5 745.5,284C746.8,287.5 748.1,290.7 750,294C751.9,297.3 754.3,301 757,304C759.7,307 762.3,309.5 766,312C769.7,314.5 774.3,317 779,319C783.7,321 791.5,323.2 794,324" fill="none" stroke="#1c1c1c" stroke-width="1.4" stroke-linejoin="round" stroke-linecap="round"/>
<path d="M770,280C771.5,279.7 775.8,278.2 779,278C782.2,277.8 785.7,278 789,279C792.3,280 795.8,281.7 799,284C802.2,286.3 805.3,289.7 808,293C810.7,296.3 813.2,300.5 815,304C816.8,307.5 818,311.2 819,314C820,316.8 820.7,319.8 821,321C819.8,320.5 817.2,319.3 814,318C810.8,316.7 806.2,315.2 802,313C797.8,310.8 792.7,307.8 789,305C785.3,302.2 782.5,299 780,296C777.5,293 775.7,289.7 774,287C772.3,284.3 770.7,281.2 770,280Z" fill="#ffffff" stroke="#1c1c1c" stroke-width="1.45" stroke-linejoin="round" stroke-linecap="round"/>
<path d="M745.5,284C747.8,283.7 754.9,282.7 759,282C763.1,281.3 768.2,280.3 770,280" fill="none" stroke="#1c1c1c" stroke-width="1.4" stroke-linejoin="round" stroke-linecap="round"/>
<path d="M746,282.6C748.2,282.2 755,281.1 759,280.4C763,279.7 768.2,278.6 770,278.2" fill="none" stroke="#8f8f8f" stroke-width="0.9" stroke-linejoin="round" stroke-linecap="round"/>
<path d="M771.5,281.5C772.2,282.8 774.2,286.3 776,289C777.8,291.7 779.5,294.7 782,297.5C784.5,300.3 789.5,304.6 791,306" fill="none" stroke="#8f8f8f" stroke-width="0.9" stroke-linejoin="round" stroke-linecap="round"/>
<path d="M782,250C784.8,250.5 793.7,251.3 799,253C804.3,254.7 809.5,257.2 814,260C818.5,262.8 822.3,266.2 826,270C829.7,273.8 833,278.2 836,283C839,287.8 841.8,293.8 844,299C846.2,304.2 847.8,309.5 849,314C850.2,318.5 850.9,321.7 851.5,326C852.1,330.3 852.3,337.7 852.5,340" fill="none" stroke="#8f8f8f" stroke-width="1" stroke-linejoin="round" stroke-linecap="round"/>
<path d="M787,249.5C789.8,250.1 798.7,251.2 804,253C809.3,254.8 814.5,257.2 819,260C823.5,262.8 827.3,266.2 831,270C834.7,273.8 838.1,278.2 841,283C843.9,287.8 846.5,293.8 848.5,299C850.5,304.2 851.8,309.5 853,314C854.2,318.5 854.9,321.7 855.5,326C856.1,330.3 856.3,337.7 856.5,340" fill="none" stroke="#1c1c1c" stroke-width="1.1" stroke-linejoin="round" stroke-linecap="round"/>
<path d="M821,320C821.3,321.3 822.6,325.6 823,328C823.4,330.4 823.4,333.4 823.5,334.5" fill="none" stroke="#1c1c1c" stroke-width="1.35" stroke-linejoin="round" stroke-linecap="round"/>
<path d="M824,335C825.8,335.6 831.3,337.6 835,338.5C838.7,339.4 842.7,340 846,340.5C849.3,341 851.8,341.5 855,341.5C858.2,341.5 861.6,341.1 865,340.5C868.4,339.9 873.8,338.4 875.5,338" fill="none" stroke="#1c1c1c" stroke-width="1.4" stroke-linejoin="round" stroke-linecap="round"/>
<path d="M853,343C853.4,345 855.1,350.5 855.5,355C855.9,359.5 855.8,364.2 855.5,370C855.2,375.8 854.3,383.3 853.5,390C852.7,396.7 851.5,403.3 850.5,410C849.5,416.7 848.4,424.5 847.5,430C846.6,435.5 845.4,440.8 845,443" fill="none" stroke="#1c1c1c" stroke-width="1.4" stroke-linejoin="round" stroke-linecap="round"/>
<path d="M850,344C850.4,345.8 851.9,350.7 852.3,355C852.7,359.3 852.6,364.2 852.3,370C852,375.8 851.1,383.3 850.3,390C849.5,396.7 848.3,403.3 847.3,410C846.3,416.7 845.2,424.6 844.3,430C843.4,435.4 842.4,440.4 842,442.5" fill="none" stroke="#8f8f8f" stroke-width="1" stroke-linejoin="round" stroke-linecap="round"/>
<path d="M878,341C878.2,342.2 879.2,344.8 879.5,348C879.8,351.2 879.8,354.7 879.5,360C879.2,365.3 878.3,373.3 877.5,380C876.7,386.7 875.5,393.3 874.5,400C873.5,406.7 872.4,413.6 871.5,420C870.6,426.4 869.4,435.4 869,438.5" fill="none" stroke="#8f8f8f" stroke-width="1" stroke-linejoin="round" stroke-linecap="round"/>
<path d="M683.5,290.5C683.5,284.4 683.6,265.1 683.8,254C684,242.9 684.2,231.5 684.5,224C684.8,216.5 684.9,213.3 685.5,209C686.1,204.7 686.8,201.2 688,198C689.2,194.8 691,192.1 693,190C695,187.9 697.5,186.6 700,185.5C702.5,184.4 706.7,183.8 708,183.5C709.8,183.3 715.3,182.5 719,182.2C722.7,181.9 727.2,181.5 730,181.5C732.8,181.5 734,181.6 736,182.5C738,183.4 740.2,184.9 742,187C743.8,189.1 745.5,191.8 747,195C748.5,198.2 749.7,201.5 751,206C752.3,210.5 753.7,216.3 755,222C756.3,227.7 757.8,234.8 759,240C760.2,245.2 761.5,250.8 762,253C764,252.5 769.5,251 774,250.2C778.5,249.5 784,248.8 789,248.5C794,248.2 799,248.1 804,248.5C809,248.9 814.3,249.8 819,251C823.7,252.2 827.8,253.7 832,256C836.2,258.3 840.3,261.7 844,265C847.7,268.3 851,272 854,276C857,280 859.7,284.3 862,289C864.3,293.7 866.3,299 868,304C869.7,309 870.9,314.7 872,319C873.1,323.3 873.9,326.8 874.5,330C875.1,333.2 875.3,336.7 875.5,338C876.2,338.3 878.8,338.7 880,340C881.2,341.3 882.2,342.7 882.5,346C882.8,349.3 882.4,354.3 882,360C881.6,365.7 880.8,373.3 880,380C879.2,386.7 878,393.3 877,400C876,406.7 875,413.7 874,420C873,426.3 871.5,435 871,438C868.3,438.7 859.3,441.2 855,442C850.7,442.8 846.7,442.8 845,443L837,441L840,390L774,320.5Z" fill="none" stroke="#1c1c1c" stroke-width="1.45" stroke-linejoin="round" stroke-linecap="round"/>
<path d="M819,445.5 L819.5,448.0 Q824.5,452.0 829.5,448.0 L830,445.5 Z" fill="#ececee" stroke="#555" stroke-width="1.1" stroke-linejoin="round" stroke-linecap="round"/><path d="M845,441.5 L845.5,444.0 Q850.25,448.0 855.0,444.0 L855.5,441.5 Z" fill="#ececee" stroke="#555" stroke-width="1.1" stroke-linejoin="round" stroke-linecap="round"/>
<path d="M316,420L700,352L800,322L822,333L830,340L838.5,383.7L316.8,472Z" fill="#fbfbfc"/>
<path d="M316.8,438L700,372L700,383L316.8,449.2Z" fill="#ebebed"/>
<path d="M316.8,449.2L700,384.4" fill="none" stroke="#1c1c1c" stroke-width="1.2" stroke-linejoin="round" stroke-linecap="round"/>
<path d="M318,463.6L828,379.2L838.5,383.7L316.8,472Z" fill="#f8f8f9"/>
<path d="M318,463.6L828,379.2L838.5,383.7" fill="none" stroke="#6a6a6a" stroke-width="1" stroke-linejoin="round" stroke-linecap="round"/>
<path d="M316.8,472L838.5,383.7L837.2,442.2L314.4,543.6Z" fill="url(#gBase)" stroke="#1c1c1c" stroke-width="1.35" stroke-linejoin="round" stroke-linecap="round"/>
<path d="M473,421.2L489.5,418.3L514,430L497,433.8Z" fill="#fdfdfd" stroke="#9a9a9a" stroke-width="0.8" stroke-linejoin="round" stroke-linecap="round"/>
<path d="M473.5,421.4L496,434" fill="none" stroke="#1c1c1c" stroke-width="1.4" stroke-linejoin="round" stroke-linecap="round"/>
<path d="M476,420.9L498.5,433.4" fill="none" stroke="#8a8a8a" stroke-width="0.8" stroke-linejoin="round" stroke-linecap="round"/>
<path d="M695.5,381.8L746,370.7L786.5,384.4L724,395.5Z" fill="#ffffff" stroke="#555" stroke-width="0.9" stroke-linejoin="round" stroke-linecap="round"/>
<path d="M748,370.2L788,384" fill="none" stroke="#1c1c1c" stroke-width="2" stroke-linejoin="round" stroke-linecap="round"/>
<circle cx="753.4000000000001" cy="381.2" r="1.4" fill="#ddd" stroke="#555" stroke-width="0.8"/>
<path d="M694,390.5L707.5,398.5" fill="none" stroke="#1c1c1c" stroke-width="1.3" stroke-linejoin="round" stroke-linecap="round"/>
<path d="M696.5,389.3L710,397.3" fill="none" stroke="#8a8a8a" stroke-width="0.8" stroke-linejoin="round" stroke-linecap="round"/>
<path d="M746,370.5L752,366.5L762,369" fill="none" stroke="#1c1c1c" stroke-width="1" stroke-linejoin="round" stroke-linecap="round"/>
<path d="M762,371L766,366" fill="none" stroke="#1c1c1c" stroke-width="1.4" stroke-linejoin="round" stroke-linecap="round"/>
<path d="M207,280L216,272L524,238L670,222.3C671.7,222.3 677.2,221.9 680,222.5C682.8,223.1 685,224.4 687,226C689,227.6 691.2,231 692,232L704,252L722,281L704,306L324,356L292,374L229,358Z" fill="url(#gBack)" stroke="#1c1c1c" stroke-width="1.4" stroke-linejoin="round" stroke-linecap="round"/>
<path d="M286,267C287.3,270.2 291.2,279.2 294,286C296.8,292.8 299.8,300.5 303,308C306.2,315.5 310.5,325.7 313,331C315.5,336.3 317.2,338.5 318,340" fill="none" stroke="#5f5b4e" stroke-width="1.1" stroke-linejoin="round" stroke-linecap="round"/>
<path d="M291,266.4C292.3,269.6 296.2,278.6 299,285.4C301.8,292.2 304.8,299.9 308,307.4C311.2,314.9 315.9,325.1 318,330.4C320.1,335.7 320.1,337.6 320.5,339" fill="none" stroke="#5f5b4e" stroke-width="1.1" stroke-linejoin="round" stroke-linecap="round"/>
<path d="M378,257C379.2,259.8 382.5,267.8 385,274C387.5,280.2 389.9,286 393,294C396.1,302 401.2,316.3 403.5,322C405.8,327.7 406.4,327 407,328" fill="none" stroke="#5f5b4e" stroke-width="1.1" stroke-linejoin="round" stroke-linecap="round"/>
<path d="M383,256.4C384.2,259.2 387.5,267.2 390,273.4C392.5,279.6 394.9,285.4 398,293.4C401.1,301.4 406.6,315.8 408.5,321.4C410.4,327 409.3,326.1 409.5,327" fill="none" stroke="#5f5b4e" stroke-width="1.1" stroke-linejoin="round" stroke-linecap="round"/>
<path d="M462,248C463.3,251 467.2,259.3 470,266C472.8,272.7 475.8,280.7 479,288C482.2,295.3 486.8,305.5 489,310C491.2,314.5 491.5,314.2 492,315" fill="none" stroke="#5f5b4e" stroke-width="1.1" stroke-linejoin="round" stroke-linecap="round"/>
<path d="M467,247.4C468.3,250.4 472.2,258.7 475,265.4C477.8,272.1 480.8,280.1 484,287.4C487.2,294.7 492.2,305 494,309.4C495.8,313.8 494.4,313.2 494.5,314" fill="none" stroke="#5f5b4e" stroke-width="1.1" stroke-linejoin="round" stroke-linecap="round"/>
<path d="M541,239C542.3,242 546.2,250.7 549,257C551.8,263.3 554.8,270.2 558,277C561.2,283.8 565.8,293.6 568,298C570.2,302.4 570.5,302.6 571,303.5" fill="none" stroke="#5f5b4e" stroke-width="1.1" stroke-linejoin="round" stroke-linecap="round"/>
<path d="M546,238.4C547.3,241.4 551.2,250.1 554,256.4C556.8,262.7 559.8,269.6 563,276.4C566.2,283.2 571.2,293.1 573,297.4C574.8,301.8 573.4,301.7 573.5,302.5" fill="none" stroke="#5f5b4e" stroke-width="1.1" stroke-linejoin="round" stroke-linecap="round"/>
<path d="M619,230C620.3,233 624.2,241.7 627,248C629.8,254.3 632.8,261.3 636,268C639.2,274.7 643.8,283.8 646,288C648.2,292.2 648.5,292.2 649,293" fill="none" stroke="#5f5b4e" stroke-width="1.1" stroke-linejoin="round" stroke-linecap="round"/>
<path d="M624,229.4C625.3,232.4 629.2,241.1 632,247.4C634.8,253.7 637.8,260.7 641,267.4C644.2,274.1 649.2,283.3 651,287.4C652.8,291.5 651.4,291.2 651.5,292" fill="none" stroke="#5f5b4e" stroke-width="1.1" stroke-linejoin="round" stroke-linecap="round"/>
<path d="M272,330C274.1,329.9 280.4,329.3 284.6,329.2C288.8,329.1 293.4,329.2 297.2,329.5C301,329.7 304.9,330.2 307.7,330.6C310.5,331 312.9,331.8 314,332" fill="none" stroke="#5f5b4e" stroke-width="0.9" stroke-linejoin="round" stroke-linecap="round"/>
<path d="M272,333.2C274.1,332.9 280.4,331.4 284.6,331.1C288.8,330.8 293.4,331 297.2,331.4C301,331.7 304.9,332.5 307.7,333.1C310.5,333.8 312.9,334.9 314,335.2" fill="none" stroke="#8c8778" stroke-width="0.9" stroke-linejoin="round" stroke-linecap="round"/>
<path d="M314,332C318.5,330.6 332,325.9 341,323.8C350,321.7 359.8,320.3 368,319.6C376.2,318.9 384.5,319.3 390.5,319.8C396.5,320.4 401.8,322.5 404,323" fill="none" stroke="#5f5b4e" stroke-width="0.9" stroke-linejoin="round" stroke-linecap="round"/>
<path d="M314,335.2C318.5,333.6 332,328 341,325.7C350,323.4 359.8,322.1 368,321.5C376.2,321 384.5,321.6 390.5,322.4C396.5,323.2 401.8,325.6 404,326.2" fill="none" stroke="#8c8778" stroke-width="0.9" stroke-linejoin="round" stroke-linecap="round"/>
<path d="M404,323C408.3,321.5 421.2,316.2 429.8,313.8C438.4,311.3 447.7,309.5 455.6,308.5C463.5,307.5 471.4,307.5 477.1,307.9C482.8,308.2 487.9,310.1 490,310.5" fill="none" stroke="#5f5b4e" stroke-width="0.9" stroke-linejoin="round" stroke-linecap="round"/>
<path d="M404,326.2C408.3,324.4 421.2,318.3 429.8,315.7C438.4,313 447.7,311.3 455.6,310.4C463.5,309.5 471.4,309.9 477.1,310.4C482.8,311 487.9,313.2 490,313.7" fill="none" stroke="#8c8778" stroke-width="0.9" stroke-linejoin="round" stroke-linecap="round"/>
<path d="M490,310.5C493.9,309 505.6,303.8 513.4,301.4C521.2,299 529.6,297.2 536.8,296.3C543.9,295.4 551.1,295.4 556.3,295.8C561.5,296.2 566,298.1 568,298.5" fill="none" stroke="#5f5b4e" stroke-width="0.9" stroke-linejoin="round" stroke-linecap="round"/>
<path d="M490,313.7C493.9,312 505.6,305.9 513.4,303.3C521.2,300.7 529.6,299 536.8,298.2C543.9,297.4 551.1,297.8 556.3,298.4C561.5,298.9 566,301.1 568,301.7" fill="none" stroke="#8c8778" stroke-width="0.9" stroke-linejoin="round" stroke-linecap="round"/>
<path d="M568,298.5C571.9,297.1 583.6,292.1 591.4,289.8C599.2,287.6 607.6,286 614.8,285.2C621.9,284.4 629.1,284.6 634.3,285.1C639.5,285.5 644,287.5 646,288" fill="none" stroke="#5f5b4e" stroke-width="0.9" stroke-linejoin="round" stroke-linecap="round"/>
<path d="M568,301.7C571.9,300 583.6,294.2 591.4,291.8C599.2,289.3 607.6,287.8 614.8,287.1C621.9,286.4 629.1,287 634.3,287.6C639.5,288.3 644,290.6 646,291.2" fill="none" stroke="#8c8778" stroke-width="0.9" stroke-linejoin="round" stroke-linecap="round"/>
<path d="M646,288C648.2,287 653.5,284 659,282C664.5,280 672.3,277.5 679,276C685.7,274.5 692.8,273.8 699,273C705.2,272.2 713.2,271.8 716,271.5" fill="none" stroke="#5f5b4e" stroke-width="1.1" stroke-linejoin="round" stroke-linecap="round"/>
<path d="M646,291.2C648.2,290.2 653.5,287.2 659,285.2C664.5,283.2 672.3,280.7 679,279.2C685.7,277.7 692.8,277 699,276.2C705.2,275.5 713.2,275 716,274.7" fill="none" stroke="#8c8778" stroke-width="1.1" stroke-linejoin="round" stroke-linecap="round"/>
<path d="M294,360C295.7,358.4 300.7,353.2 304,350.5C307.3,347.8 310.7,345.5 314,343.5C317.3,341.5 322.3,339.3 324,338.5L424,324.5L524,309.5L604,298L704,284L744,279.5L834,268C835.3,268 839.8,267.5 842,268C844.2,268.5 845.5,269 847,271C848.5,273 849.5,275.8 851,280C852.5,284.2 854.7,291.7 856,296C857.3,300.3 858.7,303.5 859,306C859.3,308.5 858.2,310.2 858,311C857.2,311.7 855.7,313.3 853,315C850.3,316.7 846.8,318.2 842,321C837.2,323.8 830.3,328.2 824,332C817.7,335.8 810.7,340 804,344C797.3,348 789.3,352.8 784,356C778.7,359.2 775.3,361.3 772,363C768.7,364.7 767,365.2 764,366C761,366.8 755.7,367.7 754,368C749,368.8 732.3,371.7 724,373C715.7,374.3 711.3,374.7 704,376C696.7,377.3 696.7,377.9 680,381C663.3,384.1 631.7,389.8 604,394.5C576.3,399.2 547.3,403.8 514,409C480.7,414.2 437,420.9 404,426C371,431.1 330.7,437.2 316,439.5L294,443Z" fill="url(#gBlk3)" stroke="#1c1c1c" stroke-width="1.4" stroke-linejoin="round" stroke-linecap="round"/>
<path d="M321,392L404,379L524,362L664,339L764,323L836,313L854,312C853.8,312.5 855,313.5 853,315C851,316.5 846.8,318.2 842,321C837.2,323.8 830.3,328.2 824,332C817.7,335.8 810.7,340 804,344C797.3,348 789.3,352.8 784,356C778.7,359.2 775.3,361.3 772,363C768.7,364.7 767,365.2 764,366C761,366.8 755.7,367.7 754,368C749,368.8 732.3,371.7 724,373C715.7,374.3 711.3,374.7 704,376C696.7,377.3 696.7,377.9 680,381C663.3,384.1 631.7,389.8 604,394.5C576.3,399.2 547.3,403.8 514,409C480.7,414.2 437,420.9 404,426C371,431.1 330.7,437.2 316,439.5L304,442L309,406Z" fill="#f5eeda"/>
<path d="M321,392L404,379L524,362L664,339L764,323L836,313L854,312" fill="none" stroke="#fffbf0" stroke-width="1.35" stroke-linejoin="round" stroke-linecap="round"/>
<path d="M321,393.3L404,380.3L524,363.3L664,340.3L764,324.3L836,314.3L854,313.3" fill="none" stroke="#e3dac4" stroke-width="0.8" stroke-linejoin="round" stroke-linecap="round"/>
<path d="M311,347C311.5,348.8 313,353.5 314,358C315,362.5 315.8,368.3 317,374C318.2,379.7 320.3,389 321,392" fill="none" stroke="#b9b4a4" stroke-width="0.9" stroke-linejoin="round" stroke-linecap="round"/>
<path d="M321,392C320,393.2 317.2,396.7 315,399C312.8,401.3 309.2,404.8 308,406" fill="none" stroke="#b9b4a4" stroke-width="0.9" stroke-linejoin="round" stroke-linecap="round"/>
<path d="M834,268C835.3,268 839.8,267.5 842,268C844.2,268.5 845.5,269 847,271C848.5,273 849.5,275.8 851,280C852.5,284.2 854.7,291.7 856,296C857.3,300.3 858.7,303.5 859,306C859.3,308.5 858.2,310.2 858,311C857.2,311.7 855.7,313.3 853,315C850.3,316.7 846.8,318.2 842,321C837.2,323.8 830.3,328.2 824,332C817.7,335.8 810.7,340 804,344C797.3,348 789.3,352.8 784,356C778.7,359.2 775.3,361.3 772,363C768.7,364.7 767,365.2 764,366C761,366.8 755.7,367.7 754,368C749,368.8 732.3,371.7 724,373C715.7,374.3 711.3,374.7 704,376C696.7,377.3 696.7,377.9 680,381C663.3,384.1 631.7,389.8 604,394.5C576.3,399.2 547.3,403.8 514,409C480.7,414.2 437,420.9 404,426C371,431.1 330.7,437.2 316,439.5" fill="none" stroke="#1c1c1c" stroke-width="1.4" stroke-linejoin="round" stroke-linecap="round"/>
<path d="M282,549 L282.5,552.0 Q288.5,556.0 294.5,552.0 L295,549 Z" fill="#ececee" stroke="#555" stroke-width="1.1" stroke-linejoin="round" stroke-linecap="round"/><path d="M313,542.5 L313.5,545.5 Q319.5,549.5 325.5,545.5 L326,542.5 Z" fill="#ececee" stroke="#555" stroke-width="1.1" stroke-linejoin="round" stroke-linecap="round"/>
<path d="M163,468C162.2,458.3 159.6,425.5 158,410C156.4,394.5 154.6,387.5 153.5,375C152.4,362.5 152.1,346.7 151.5,335C150.9,323.3 150.4,315 150,305C149.6,295 149.2,282.2 149,275C148.8,267.8 148.4,265.8 148.6,262C148.8,258.2 149.3,254.8 150,252C150.7,249.2 151.8,246.9 153,245C154.2,243.1 155.5,241.6 157,240.5C158.5,239.4 161.2,238.9 162,238.6C165,238.3 175,237.5 180,237C185,236.5 189.2,235.7 192,235.5C194.8,235.3 195.5,235.6 197,236C198.5,236.4 199.7,236.8 201,238C202.3,239.2 203.7,240.8 205,243C206.3,245.2 207.7,247.3 209,251C210.3,254.7 211.7,259.3 213,265C214.3,270.7 215.8,279.2 217,285C218.2,290.8 219,294.7 220,300C221,305.3 222.5,314.2 223,317C226.7,317.1 239.2,317 245,317.5C250.8,318 253.8,318.8 258,320C262.2,321.2 266.3,322.5 270,325C273.7,327.5 276.7,330.3 280,335C283.3,339.7 287,346.8 290,353C293,359.2 295.8,365.5 298,372C300.2,378.5 301.7,385.7 303,392C304.3,398.3 305.2,404.2 306,410C306.8,415.8 307.2,424.2 307.5,427C308.2,427.8 310.8,429 312,432C313.2,435 313.8,438.7 314.5,445C315.2,451.3 315.6,462.5 316,470C316.4,477.5 316.9,481.7 317,490C317.1,498.3 316.7,511 316.4,520C316.1,529 315.2,540 315,544L278,550.5L272,552C263.3,545.7 235.3,525.7 220,514C204.7,502.3 189,489.2 180,482C171,474.8 168.8,473.3 166,471C163.2,468.7 163.5,468.5 163,468Z" fill="url(#gWall)" stroke="#1c1c1c" stroke-width="1.45" stroke-linejoin="round" stroke-linecap="round"/>
<path d="M278.5,445L315,441L316.6,520L315,544L278,550.5Z" fill="url(#gStrip)"/>
<path d="M160,239.5C161,240.4 164,242.4 166,245C168,247.6 170,250.3 172,255C174,259.7 176.2,266.3 178,273C179.8,279.7 181.5,288 183,295C184.5,302 185.8,309.2 187,315C188.2,320.8 189.5,327.5 190,330C191.7,329 196,325.8 200,324C204,322.2 210.2,320.5 214,319.5C217.8,318.5 221.5,318.1 223,317.8C222.5,314.8 221,305.5 220,300C219,294.5 218.2,290.8 217,285C215.8,279.2 214.3,270.7 213,265C211.7,259.3 210.3,254.7 209,251C207.7,247.3 206.3,245.2 205,243C203.7,240.8 202.3,239.2 201,238C199.7,236.8 198.5,236.4 197,236C195.5,235.6 194.8,235.3 192,235.5C189.2,235.7 185,236.5 180,237C175,237.5 165,238.3 162,238.6Z" fill="url(#gTopStrip)"/>
<path d="M160,239.5C161,240.4 164,242.4 166,245C168,247.6 170,250.3 172,255C174,259.7 176.2,266.3 178,273C179.8,279.7 181.5,288 183,295C184.5,302 185.8,309.2 187,315C188.2,320.8 189.5,327.5 190,330" fill="none" stroke="#1c1c1c" stroke-width="1.2" stroke-linejoin="round" stroke-linecap="round"/>
<path d="M157.8,241C158.8,242 162,244.3 164,247C166,249.7 168,252.3 170,257C172,261.7 174.2,268.3 176,275C177.8,281.7 179.5,290 181,297C182.5,304 183.9,311.3 185,317C186.1,322.7 187.3,328.7 187.8,331" fill="none" stroke="#c6c6ca" stroke-width="1.6" stroke-linejoin="round" stroke-linecap="round"/>
<path d="M190,330.5C191.7,329.4 196,325.8 200,324C204,322.2 209,320.6 214,319.5C219,318.4 224.8,317.8 230,317.5C235.2,317.2 240.3,317.1 245,317.5C249.7,317.9 253.8,318.8 258,320C262.2,321.2 266.3,322.5 270,325C273.7,327.5 276.7,330.3 280,335C283.3,339.7 287,346.8 290,353C293,359.2 295.8,365.5 298,372C300.2,378.5 301.7,385.7 303,392C304.3,398.3 305.2,404.2 306,410C306.8,415.8 307.2,424.2 307.5,427" fill="none" stroke="#1c1c1c" stroke-width="1.45" stroke-linejoin="round" stroke-linecap="round"/>
<path d="M190,330.5C191.7,329.4 196,325.8 200,324C204,322.2 209,320.6 214,319.5C219,318.4 224.8,317.8 230,317.5C235.2,317.2 240.3,317.1 245,317.5C249.7,317.9 253.8,318.8 258,320C262.2,321.2 266.3,322.5 270,325C273.7,327.5 276.7,330.3 280,335C283.3,339.7 287,346.8 290,353C293,359.2 295.8,365.5 298,372C300.2,378.5 301.7,385.7 303,392C304.3,398.3 305.2,404.2 306,410C306.8,415.8 307.2,424.2 307.5,427C306.8,427.3 305.9,428.2 303,429C300.1,429.8 295,431.2 290,432C285,432.8 275.8,433.7 273,434C271.2,433.2 265.5,430.9 262,429C258.5,427.1 253.7,423.6 252,422.5C251.8,421.2 251.5,418.4 251,415C250.5,411.6 250,406.5 249,402C248,397.5 246.8,393 245,388C243.2,383 240.5,376.7 238,372C235.5,367.3 232.3,362.8 230,360C227.7,357.2 226,356.2 224,355C222,353.8 220.3,353.2 218,353C215.7,352.8 213.7,353.3 210,354C206.3,354.7 198.3,356.5 196,357C195.5,355.5 194,352.4 193,348C192,343.6 190.5,333.4 190,330.5Z" fill="url(#gArmL)"/>
<path d="M262,323C263.8,324.3 269.5,327.3 273,331C276.5,334.7 280,339.8 283,345C286,350.2 288.7,356.2 291,362C293.3,367.8 295.3,374 297,380C298.7,386 299.8,392.2 301,398C302.2,403.8 303.2,410 304,415C304.8,420 305.2,425.8 305.5,428" fill="none" stroke="#8f8f8f" stroke-width="0.9" stroke-linejoin="round" stroke-linecap="round"/>
<path d="M190,330.5C190.5,333.4 192,343.6 193,348C194,352.4 194.8,353.7 196,357C197.2,360.3 198,363.5 200,368C202,372.5 205,379 208,384C211,389 214.3,394 218,398C221.7,402 226,405 230,408C234,411 238.3,413.6 242,416C245.7,418.4 248.7,420.3 252,422.5C255.3,424.7 258.5,427.1 262,429C265.5,430.9 271.2,433.2 273,434" fill="none" stroke="#1c1c1c" stroke-width="1.45" stroke-linejoin="round" stroke-linecap="round"/>
<path d="M183,320C183.7,323.3 185.2,333 187,340C188.8,347 191.3,355 194,362C196.7,369 199.7,376 203,382C206.3,388 210.2,393.5 214,398C217.8,402.5 221.7,405.5 226,409C230.3,412.5 235.2,415.8 240,419C244.8,422.2 250.7,425.5 255,428C259.3,430.5 263.3,432 266,434C268.7,436 269.7,437.3 271,440C272.3,442.7 273.2,443.3 274,450C274.8,456.7 275.6,468.3 276,480C276.4,491.7 276.6,508.3 276.5,520C276.4,531.7 275.7,545 275.5,550" fill="none" stroke="#8f8f8f" stroke-width="1" stroke-linejoin="round" stroke-linecap="round"/>
<path d="M196,357C198.3,356.5 206.3,354.7 210,354C213.7,353.3 215.7,352.8 218,353C220.3,353.2 222,353.8 224,355C226,356.2 227.7,357.2 230,360C232.3,362.8 235.5,367.3 238,372C240.5,376.7 243.2,383 245,388C246.8,393 248,397.5 249,402C250,406.5 250.5,411.6 251,415C251.5,418.4 251.8,421.2 252,422.5C250.3,421.4 245.7,418.4 242,416C238.3,413.6 234,411 230,408C226,405 221.7,402 218,398C214.3,394 211,389 208,384C205,379 202,372.5 200,368C198,363.5 196.7,358.8 196,357Z" fill="#f7f7f9" stroke="#1c1c1c" stroke-width="1.45" stroke-linejoin="round" stroke-linecap="round"/>
<path d="M231,361.5C231.7,363.1 233.9,367.9 235.3,371C236.7,374.1 238,377.3 239.5,380C241,382.7 243.5,385.8 244.3,387" fill="none" stroke="#1c1c1c" stroke-width="1" stroke-linejoin="round" stroke-linecap="round"/>
<path d="M196,354.5C197.7,354.2 202.8,353.4 206,353C209.2,352.6 213.5,352.2 215,352" fill="none" stroke="#8f8f8f" stroke-width="0.9" stroke-linejoin="round" stroke-linecap="round"/>
<path d="M220,320C221.7,320.8 226.7,322.8 230,325C233.3,327.2 236.7,329.7 240,333C243.3,336.3 247,340.5 250,345C253,349.5 255.8,355 258,360C260.2,365 261.6,369.7 263,375C264.4,380.3 265.6,386.2 266.5,392C267.4,397.8 267.9,403.3 268.5,410C269.1,416.7 269.8,428.3 270,432" fill="none" stroke="#8f8f8f" stroke-width="1" stroke-linejoin="round" stroke-linecap="round"/>
<path d="M225,319.5C226.8,320.4 232.5,322.6 236,325C239.5,327.4 242.8,330.5 246,334C249.2,337.5 252.2,341.5 255,346C257.8,350.5 260.8,355.7 263,361C265.2,366.3 266.6,372.3 268,378C269.4,383.7 270.6,389.3 271.5,395C272.4,400.7 273,405.8 273.5,412C274,418.2 274.3,428.7 274.5,432" fill="none" stroke="#1c1c1c" stroke-width="1.1" stroke-linejoin="round" stroke-linecap="round"/>
<path d="M273,434C275.8,433.7 285,432.8 290,432C295,431.2 300.1,429.8 303,429C305.9,428.2 306.8,427.3 307.5,427" fill="none" stroke="#1c1c1c" stroke-width="1.4" stroke-linejoin="round" stroke-linecap="round"/>
<path d="M273,434C273.6,435.8 275.6,439 276.5,445C277.4,451 278,460.8 278.5,470C279,479.2 279.2,490 279.3,500C279.4,510 279,521.6 278.8,530C278.6,538.4 278.1,547.1 278,550.5" fill="none" stroke="#1c1c1c" stroke-width="1.35" stroke-linejoin="round" stroke-linecap="round"/>
<path d="M309,431C309.3,433.3 310.4,438.5 311,445C311.6,451.5 312.1,462.5 312.5,470C312.9,477.5 313.5,481.7 313.6,490C313.7,498.3 313.3,510.9 313,520C312.7,529.1 311.8,540.4 311.6,544.5" fill="none" stroke="#8f8f8f" stroke-width="1" stroke-linejoin="round" stroke-linecap="round"/>
<path d="M163,468C162.2,458.3 159.6,425.5 158,410C156.4,394.5 154.6,387.5 153.5,375C152.4,362.5 152.1,346.7 151.5,335C150.9,323.3 150.4,315 150,305C149.6,295 149.2,282.2 149,275C148.8,267.8 148.4,265.8 148.6,262C148.8,258.2 149.3,254.8 150,252C150.7,249.2 151.8,246.9 153,245C154.2,243.1 155.5,241.6 157,240.5C158.5,239.4 161.2,238.9 162,238.6C165,238.3 175,237.5 180,237C185,236.5 189.2,235.7 192,235.5C194.8,235.3 195.5,235.6 197,236C198.5,236.4 199.7,236.8 201,238C202.3,239.2 203.7,240.8 205,243C206.3,245.2 207.7,247.3 209,251C210.3,254.7 211.7,259.3 213,265C214.3,270.7 215.8,279.2 217,285C218.2,290.8 219,294.7 220,300C221,305.3 222.5,314.2 223,317C226.7,317.1 239.2,317 245,317.5C250.8,318 253.8,318.8 258,320C262.2,321.2 266.3,322.5 270,325C273.7,327.5 276.7,330.3 280,335C283.3,339.7 287,346.8 290,353C293,359.2 295.8,365.5 298,372C300.2,378.5 301.7,385.7 303,392C304.3,398.3 305.2,404.2 306,410C306.8,415.8 307.2,424.2 307.5,427C308.2,427.8 310.8,429 312,432C313.2,435 313.8,438.7 314.5,445C315.2,451.3 315.6,462.5 316,470C316.4,477.5 316.9,481.7 317,490C317.1,498.3 316.7,511 316.4,520C316.1,529 315.2,540 315,544L278,550.5L272,552C263.3,545.7 235.3,525.7 220,514C204.7,502.3 189,489.2 180,482C171,474.8 168.8,473.3 166,471C163.2,468.7 163.5,468.5 163,468Z" fill="none" stroke="#1c1c1c" stroke-width="1.45" stroke-linejoin="round" stroke-linecap="round"/>
<path d="M190,330.5C191.7,329.4 196,325.8 200,324C204,322.2 209,320.6 214,319.5C219,318.4 224.8,317.8 230,317.5C235.2,317.2 240.3,317.1 245,317.5C249.7,317.9 255.8,319.6 258,320" fill="none" stroke="#1c1c1c" stroke-width="1.45" stroke-linejoin="round" stroke-linecap="round"/>
<defs><linearGradient id="ca4" gradientUnits="userSpaceOnUse" x1="349" y1="353" x2="422" y2="451"><stop offset="0" stop-color="#f6b57a" stop-opacity="0.85"/><stop offset="0.35" stop-color="#f29a48"/><stop offset="0.7" stop-color="#ef841f"/><stop offset="1" stop-color="#ee7f1a"/></linearGradient><linearGradient id="ca4s" gradientUnits="userSpaceOnUse" x1="349" y1="353" x2="422" y2="451"><stop offset="0" stop-color="#a08a78" stop-opacity="0.6"/><stop offset="0.35" stop-color="#5a4030"/><stop offset="0.6" stop-color="#1f0f04"/><stop offset="1" stop-color="#140a02"/></linearGradient></defs><path d="M346,351.5C346.4,351 345.2,349.1 348.2,348.5C351.2,347.9 358,346.8 364,348C370,349.2 378,352.3 384,356C390,359.7 395,364.3 400,370C405,375.7 410,383 414,390C418,397 421.3,405.7 424,412C426.7,418.3 429,425.3 430,428L440,424L424,462L393,432L404,430C403.3,426.7 402,416.7 400,410C398,403.3 395.3,396.3 392,390C388.7,383.7 384.7,377.1 380,372C375.3,366.9 368.7,362.2 364,359.5C359.3,356.8 354.6,356.3 352,355.5C349.4,354.7 348.9,354.7 348.2,354.5L346,351.5Z" fill="url(#ca4)" stroke="url(#ca4s)" stroke-width="2.3" stroke-linejoin="round" stroke-linecap="round"/><defs><linearGradient id="ca5" gradientUnits="userSpaceOnUse" x1="591" y1="321" x2="676" y2="446"><stop offset="0" stop-color="#f6b57a" stop-opacity="0.85"/><stop offset="0.35" stop-color="#f29a48"/><stop offset="0.7" stop-color="#ef841f"/><stop offset="1" stop-color="#ee7f1a"/></linearGradient><linearGradient id="ca5s" gradientUnits="userSpaceOnUse" x1="591" y1="321" x2="676" y2="446"><stop offset="0" stop-color="#a08a78" stop-opacity="0.6"/><stop offset="0.35" stop-color="#5a4030"/><stop offset="0.6" stop-color="#1f0f04"/><stop offset="1" stop-color="#140a02"/></linearGradient></defs><path d="M587,319.5C587.4,319 586.4,317.2 589.2,316.5C592.1,315.8 598.2,314.8 604,315C609.8,315.2 617.3,315.5 624,318C630.7,320.5 638,325.3 644,330C650,334.7 655,339.7 660,346C665,352.3 670,360.7 674,368C678,375.3 681.3,383.7 684,390C686.7,396.3 689,403.3 690,406L695.5,403.5L677,456L642,415L653,411C652.2,406.8 650.2,394.2 648,386C645.8,377.8 643.3,369.3 640,362C636.7,354.7 632.7,347.5 628,342C623.3,336.5 617.2,332.1 612,329C606.8,325.9 600.8,324.6 597,323.5C593.2,322.4 590.5,322.7 589.2,322.5L587,319.5Z" fill="url(#ca5)" stroke="url(#ca5s)" stroke-width="2.3" stroke-linejoin="round" stroke-linecap="round"/><defs><linearGradient id="ca6" gradientUnits="userSpaceOnUse" x1="803" y1="289" x2="874" y2="391"><stop offset="0" stop-color="#f6b57a" stop-opacity="0.85"/><stop offset="0.35" stop-color="#f29a48"/><stop offset="0.7" stop-color="#ef841f"/><stop offset="1" stop-color="#ee7f1a"/></linearGradient><linearGradient id="ca6s" gradientUnits="userSpaceOnUse" x1="803" y1="289" x2="874" y2="391"><stop offset="0" stop-color="#a08a78" stop-opacity="0.6"/><stop offset="0.35" stop-color="#5a4030"/><stop offset="0.6" stop-color="#1f0f04"/><stop offset="1" stop-color="#140a02"/></linearGradient></defs><path d="M799.5,287.5C799.9,287 800.2,285 801.8,284.5C803.3,284 805.3,284.2 809,284.5C812.7,284.8 819,284.4 824,286C829,287.6 834,290.7 839,294C844,297.3 849.5,301.3 854,306C858.5,310.7 862.7,317 866,322C869.3,327 871.7,331.7 874,336C876.3,340.3 878.3,344 880,348C881.7,352 883.3,358 884,360L893,357.5L876,399L846.5,367L854,365C853.5,362.7 852.3,355.8 851,351C849.7,346.2 848,341 846,336C844,331 841.8,326 839,321C836.2,316 832.3,310.1 829,306C825.7,301.9 822.3,298.9 819,296.5C815.7,294.1 811.9,292.5 809,291.5C806.1,290.5 803,290.7 801.8,290.5L799.5,287.5Z" fill="url(#ca6)" stroke="url(#ca6s)" stroke-width="2.3" stroke-linejoin="round" stroke-linecap="round"/></g>
<g transform="translate(986,756)"><path d="M683.5,290.5C683.5,284.4 683.6,265.1 683.8,254C684,242.9 684.2,231.5 684.5,224C684.8,216.5 684.9,213.3 685.5,209C686.1,204.7 686.8,201.2 688,198C689.2,194.8 691,192.1 693,190C695,187.9 697.5,186.6 700,185.5C702.5,184.4 706.7,183.8 708,183.5C709.8,183.3 715.3,182.5 719,182.2C722.7,181.9 727.2,181.5 730,181.5C732.8,181.5 734,181.6 736,182.5C738,183.4 740.2,184.9 742,187C743.8,189.1 745.5,191.8 747,195C748.5,198.2 749.7,201.5 751,206C752.3,210.5 753.7,216.3 755,222C756.3,227.7 757.8,234.8 759,240C760.2,245.2 761.5,250.8 762,253C764,252.5 769.5,251 774,250.2C778.5,249.5 784,248.8 789,248.5C794,248.2 799,248.1 804,248.5C809,248.9 814.3,249.8 819,251C823.7,252.2 827.8,253.7 832,256C836.2,258.3 840.3,261.7 844,265C847.7,268.3 851,272 854,276C857,280 859.7,284.3 862,289C864.3,293.7 866.3,299 868,304C869.7,309 870.9,314.7 872,319C873.1,323.3 873.9,326.8 874.5,330C875.1,333.2 875.3,336.7 875.5,338C876.2,338.3 878.8,338.7 880,340C881.2,341.3 882.2,342.7 882.5,346C882.8,349.3 882.4,354.3 882,360C881.6,365.7 880.8,373.3 880,380C879.2,386.7 878,393.3 877,400C876,406.7 875,413.7 874,420C873,426.3 871.5,435 871,438C868.3,438.7 859.3,441.2 855,442C850.7,442.8 846.7,442.8 845,443L837,441L840,390L774,320.5Z" fill="url(#gWallR)" stroke="#1c1c1c" stroke-width="1.45" stroke-linejoin="round" stroke-linecap="round"/>
<path d="M856,352L882,350L880,380L874,420L871,438L855,442L845,443L853.5,390Z" fill="url(#gStripR)"/>
<path d="M708,183.5C709.8,183.3 715.3,182.5 719,182.2C722.7,181.9 727.2,181.5 730,181.5C732.8,181.5 734,181.6 736,182.5C738,183.4 740.2,184.9 742,187C743.8,189.1 745.5,191.8 747,195C748.5,198.2 749.7,201.5 751,206C752.3,210.5 753.7,216.3 755,222C756.3,227.7 757.8,234.8 759,240C760.2,245.2 761.5,250.8 762,253C760,253.7 753.8,255.5 750,257C746.2,258.5 740.8,261.2 739,262C738.5,260.7 737.2,258 736,254C734.8,250 733.3,243.3 732,238C730.7,232.7 729.3,227.2 728,222C726.7,216.8 725.5,211.5 724,207C722.5,202.5 720.7,198.2 719,195C717.3,191.8 715.8,189.8 714,188C712.2,186.2 709,184.7 708,184Z" fill="url(#gTopStrip)"/>
<path d="M708,184C709,184.7 712.2,186.2 714,188C715.8,189.8 717.3,191.8 719,195C720.7,198.2 722.5,202.5 724,207C725.5,211.5 726.7,216.8 728,222C729.3,227.2 730.7,232.7 732,238C733.3,243.3 734.8,249.7 736,254C737.2,258.3 738,260.3 739,264C740,267.7 740.8,272.2 742,276C743.2,279.8 744.5,283.5 746,287C747.5,290.5 749,293.8 751,297C753,300.2 755.3,303.2 758,306C760.7,308.8 763.5,311.5 767,314C770.5,316.5 774.5,319 779,321C783.5,323 788.2,324.3 794,326C799.8,327.7 807.3,329.4 814,331C820.7,332.6 830.7,334.8 834,335.5" fill="none" stroke="#1c1c1c" stroke-width="1.2" stroke-linejoin="round" stroke-linecap="round"/>
<path d="M711.8,189.2C712.6,190.4 715.1,193 716.8,196.2C718.5,199.4 720.3,203.7 721.8,208.2C723.3,212.7 724.5,218 725.8,223.2C727.1,228.4 728.5,233.9 729.8,239.2C731.1,244.5 732.6,250.9 733.8,255.2C735,259.5 735.8,261.5 736.8,265.2C737.8,268.9 738.6,273.4 739.8,277.2C741,281 742.3,284.7 743.8,288.2C745.3,291.7 746.8,295 748.8,298.2C750.8,301.4 753.1,304.4 755.8,307.2C758.5,310 761.3,312.7 764.8,315.2C768.3,317.7 772.3,320.2 776.8,322.2C781.3,324.2 786,325.5 791.8,327.2C797.6,328.9 805.1,330.6 811.8,332.2C818.5,333.8 828.5,335.9 831.8,336.7" fill="none" stroke="#c6c6ca" stroke-width="1.5" stroke-linejoin="round" stroke-linecap="round"/>
<path d="M736,185C736.8,185.7 739.5,187 741,189C742.5,191 743.7,193.8 745,197C746.3,200.2 747.7,203.5 749,208C750.3,212.5 751.7,218.3 753,224C754.3,229.7 755.9,237.2 757,242C758.1,246.8 759.1,251.2 759.5,253" fill="none" stroke="#8f8f8f" stroke-width="0.9" stroke-linejoin="round" stroke-linecap="round"/>
<path d="M739,262C740.8,261.2 746.2,258.5 750,257C753.8,255.5 758,254.1 762,253C766,251.9 769.5,251 774,250.2C778.5,249.5 784,248.8 789,248.5C794,248.2 799,248.1 804,248.5C809,248.9 814.3,249.8 819,251C823.7,252.2 827.8,253.7 832,256C836.2,258.3 840.3,261.7 844,265C847.7,268.3 851,272 854,276C857,280 859.7,284.3 862,289C864.3,293.7 866.3,299 868,304C869.7,309 870.9,314.7 872,319C873.1,323.3 873.9,326.8 874.5,330C875.1,333.2 875.3,336.7 875.5,338" fill="none" stroke="#1c1c1c" stroke-width="1.45" stroke-linejoin="round" stroke-linecap="round"/>
<path d="M822,254C824,255 830.3,257.5 834,260C837.7,262.5 841,265.7 844,269C847,272.3 849.5,276 852,280C854.5,284 856.8,288.5 859,293C861.2,297.5 863.3,302.3 865,307C866.7,311.7 867.8,316.2 869,321C870.2,325.8 871.5,333.5 872,336" fill="none" stroke="#8f8f8f" stroke-width="0.9" stroke-linejoin="round" stroke-linecap="round"/>
<path d="M739,262C739.5,263.8 740.9,269.3 742,273C743.1,276.7 744.2,280.5 745.5,284C746.8,287.5 748.1,290.7 750,294C751.9,297.3 754.3,301 757,304C759.7,307 762.3,309.5 766,312C769.7,314.5 774.3,317 779,319C783.7,321 791.5,323.2 794,324" fill="none" stroke="#1c1c1c" stroke-width="1.4" stroke-linejoin="round" stroke-linecap="round"/>
<path d="M770,280C771.5,279.7 775.8,278.2 779,278C782.2,277.8 785.7,278 789,279C792.3,280 795.8,281.7 799,284C802.2,286.3 805.3,289.7 808,293C810.7,296.3 813.2,300.5 815,304C816.8,307.5 818,311.2 819,314C820,316.8 820.7,319.8 821,321C819.8,320.5 817.2,319.3 814,318C810.8,316.7 806.2,315.2 802,313C797.8,310.8 792.7,307.8 789,305C785.3,302.2 782.5,299 780,296C777.5,293 775.7,289.7 774,287C772.3,284.3 770.7,281.2 770,280Z" fill="#ffffff" stroke="#1c1c1c" stroke-width="1.45" stroke-linejoin="round" stroke-linecap="round"/>
<path d="M745.5,284C747.8,283.7 754.9,282.7 759,282C763.1,281.3 768.2,280.3 770,280" fill="none" stroke="#1c1c1c" stroke-width="1.4" stroke-linejoin="round" stroke-linecap="round"/>
<path d="M746,282.6C748.2,282.2 755,281.1 759,280.4C763,279.7 768.2,278.6 770,278.2" fill="none" stroke="#8f8f8f" stroke-width="0.9" stroke-linejoin="round" stroke-linecap="round"/>
<path d="M771.5,281.5C772.2,282.8 774.2,286.3 776,289C777.8,291.7 779.5,294.7 782,297.5C784.5,300.3 789.5,304.6 791,306" fill="none" stroke="#8f8f8f" stroke-width="0.9" stroke-linejoin="round" stroke-linecap="round"/>
<path d="M782,250C784.8,250.5 793.7,251.3 799,253C804.3,254.7 809.5,257.2 814,260C818.5,262.8 822.3,266.2 826,270C829.7,273.8 833,278.2 836,283C839,287.8 841.8,293.8 844,299C846.2,304.2 847.8,309.5 849,314C850.2,318.5 850.9,321.7 851.5,326C852.1,330.3 852.3,337.7 852.5,340" fill="none" stroke="#8f8f8f" stroke-width="1" stroke-linejoin="round" stroke-linecap="round"/>
<path d="M787,249.5C789.8,250.1 798.7,251.2 804,253C809.3,254.8 814.5,257.2 819,260C823.5,262.8 827.3,266.2 831,270C834.7,273.8 838.1,278.2 841,283C843.9,287.8 846.5,293.8 848.5,299C850.5,304.2 851.8,309.5 853,314C854.2,318.5 854.9,321.7 855.5,326C856.1,330.3 856.3,337.7 856.5,340" fill="none" stroke="#1c1c1c" stroke-width="1.1" stroke-linejoin="round" stroke-linecap="round"/>
<path d="M821,320C821.3,321.3 822.6,325.6 823,328C823.4,330.4 823.4,333.4 823.5,334.5" fill="none" stroke="#1c1c1c" stroke-width="1.35" stroke-linejoin="round" stroke-linecap="round"/>
<path d="M824,335C825.8,335.6 831.3,337.6 835,338.5C838.7,339.4 842.7,340 846,340.5C849.3,341 851.8,341.5 855,341.5C858.2,341.5 861.6,341.1 865,340.5C868.4,339.9 873.8,338.4 875.5,338" fill="none" stroke="#1c1c1c" stroke-width="1.4" stroke-linejoin="round" stroke-linecap="round"/>
<path d="M853,343C853.4,345 855.1,350.5 855.5,355C855.9,359.5 855.8,364.2 855.5,370C855.2,375.8 854.3,383.3 853.5,390C852.7,396.7 851.5,403.3 850.5,410C849.5,416.7 848.4,424.5 847.5,430C846.6,435.5 845.4,440.8 845,443" fill="none" stroke="#1c1c1c" stroke-width="1.4" stroke-linejoin="round" stroke-linecap="round"/>
<path d="M850,344C850.4,345.8 851.9,350.7 852.3,355C852.7,359.3 852.6,364.2 852.3,370C852,375.8 851.1,383.3 850.3,390C849.5,396.7 848.3,403.3 847.3,410C846.3,416.7 845.2,424.6 844.3,430C843.4,435.4 842.4,440.4 842,442.5" fill="none" stroke="#8f8f8f" stroke-width="1" stroke-linejoin="round" stroke-linecap="round"/>
<path d="M878,341C878.2,342.2 879.2,344.8 879.5,348C879.8,351.2 879.8,354.7 879.5,360C879.2,365.3 878.3,373.3 877.5,380C876.7,386.7 875.5,393.3 874.5,400C873.5,406.7 872.4,413.6 871.5,420C870.6,426.4 869.4,435.4 869,438.5" fill="none" stroke="#8f8f8f" stroke-width="1" stroke-linejoin="round" stroke-linecap="round"/>
<path d="M683.5,290.5C683.5,284.4 683.6,265.1 683.8,254C684,242.9 684.2,231.5 684.5,224C684.8,216.5 684.9,213.3 685.5,209C686.1,204.7 686.8,201.2 688,198C689.2,194.8 691,192.1 693,190C695,187.9 697.5,186.6 700,185.5C702.5,184.4 706.7,183.8 708,183.5C709.8,183.3 715.3,182.5 719,182.2C722.7,181.9 727.2,181.5 730,181.5C732.8,181.5 734,181.6 736,182.5C738,183.4 740.2,184.9 742,187C743.8,189.1 745.5,191.8 747,195C748.5,198.2 749.7,201.5 751,206C752.3,210.5 753.7,216.3 755,222C756.3,227.7 757.8,234.8 759,240C760.2,245.2 761.5,250.8 762,253C764,252.5 769.5,251 774,250.2C778.5,249.5 784,248.8 789,248.5C794,248.2 799,248.1 804,248.5C809,248.9 814.3,249.8 819,251C823.7,252.2 827.8,253.7 832,256C836.2,258.3 840.3,261.7 844,265C847.7,268.3 851,272 854,276C857,280 859.7,284.3 862,289C864.3,293.7 866.3,299 868,304C869.7,309 870.9,314.7 872,319C873.1,323.3 873.9,326.8 874.5,330C875.1,333.2 875.3,336.7 875.5,338C876.2,338.3 878.8,338.7 880,340C881.2,341.3 882.2,342.7 882.5,346C882.8,349.3 882.4,354.3 882,360C881.6,365.7 880.8,373.3 880,380C879.2,386.7 878,393.3 877,400C876,406.7 875,413.7 874,420C873,426.3 871.5,435 871,438C868.3,438.7 859.3,441.2 855,442C850.7,442.8 846.7,442.8 845,443L837,441L840,390L774,320.5Z" fill="none" stroke="#1c1c1c" stroke-width="1.45" stroke-linejoin="round" stroke-linecap="round"/>
<path d="M819,445.5 L819.5,448.0 Q824.5,452.0 829.5,448.0 L830,445.5 Z" fill="#ececee" stroke="#555" stroke-width="1.1" stroke-linejoin="round" stroke-linecap="round"/><path d="M845,441.5 L845.5,444.0 Q850.25,448.0 855.0,444.0 L855.5,441.5 Z" fill="#ececee" stroke="#555" stroke-width="1.1" stroke-linejoin="round" stroke-linecap="round"/>
<path d="M317,477L843,388L840,390L837,441L315,544Z" fill="url(#gBase)" stroke="#1c1c1c" stroke-width="1.35" stroke-linejoin="round" stroke-linecap="round"/>
<path d="M276,344L286,340.5L679,289C684.8,291.2 699.8,297 714,302C728.2,307 747.3,313.9 764,319C780.7,324.1 799,327.7 814,332.5C829,337.3 842.7,343.4 854,348C865.3,352.6 877.3,358 882,360L344,449C341,448.7 331,449.2 326,447C321,444.8 316,437.8 314,436L299,394Z" fill="url(#gSeatTop)"/>
<clipPath id="bedclip"><path d="M276,344L286,340.5L679,289C684.8,291.2 699.8,297 714,302C728.2,307 747.3,313.9 764,319C780.7,324.1 799,327.7 814,332.5C829,337.3 842.7,343.4 854,348C865.3,352.6 877.3,358 882,360L344,449C341,448.7 331,449.2 326,447C321,444.8 316,437.8 314,436L299,394Z"/></clipPath>
<g clip-path="url(#bedclip)"><path d="M281.7,362.2C283.2,361.7 287.4,359.9 290.6,359.3C293.9,358.6 298,358.3 301.4,358.3C304.7,358.3 308.3,358.9 311,359.3C313.7,359.8 316.4,360.9 317.4,361.3" fill="none" stroke="#a8a38b" stroke-width="2.3" stroke-linejoin="round" stroke-linecap="round"/>
<path d="M317.4,361.3C321.1,359.7 331.3,354.3 339.4,351.8C347.4,349.3 357.4,347.4 365.7,346.5C374.1,345.6 382.9,345.8 389.5,346.3C396,346.7 402.6,348.6 405.3,349" fill="none" stroke="#a8a38b" stroke-width="2.3" stroke-linejoin="round" stroke-linecap="round"/>
<path d="M405.3,349C408.8,347.5 418.6,342.1 426.4,339.7C434.1,337.3 443.7,335.5 451.7,334.6C459.7,333.7 468.2,334 474.5,334.4C480.8,334.9 487.1,336.8 489.7,337.2" fill="none" stroke="#a8a38b" stroke-width="2.3" stroke-linejoin="round" stroke-linecap="round"/>
<path d="M489.7,337.2C493.1,335.7 502.7,330.5 510.2,328.2C517.8,325.8 527.1,324 534.9,323.2C542.7,322.3 551,322.6 557.1,323C563.3,323.5 569.5,325.3 572,325.8" fill="none" stroke="#a8a38b" stroke-width="2.3" stroke-linejoin="round" stroke-linecap="round"/>
<path d="M572,325.8C575.2,324.3 584.3,319.4 591.5,317.2C598.6,315 607.4,313.3 614.8,312.5C622.3,311.6 630.1,311.9 635.9,312.3C641.8,312.7 647.6,314.5 649.9,314.9" fill="none" stroke="#a8a38b" stroke-width="2.3" stroke-linejoin="round" stroke-linecap="round"/>
<path d="M649.9,314.9C652.8,313.5 660.9,308.8 667.2,306.6C673.5,304.4 681.4,302.6 687.9,301.7C694.5,300.7 703.5,301 706.6,300.8" fill="none" stroke="#a8a38b" stroke-width="2.3" stroke-linejoin="round" stroke-linecap="round"/>
<path d="M289.6,340C292.2,341.5 300.3,345.4 304.9,348.9C309.5,352.5 315.3,359.2 317.4,361.3" fill="none" stroke="#a8a38b" stroke-width="1.35" stroke-linejoin="round" stroke-linecap="round"/>
<path d="M296.6,339C298.9,340.6 306.6,345 310.3,348.6C314,352.2 317.5,358.5 318.9,360.5" fill="none" stroke="#a8a38b" stroke-width="1.35" stroke-linejoin="round" stroke-linecap="round"/>
<path d="M331.4,359.8C333.6,360.9 340.3,362.9 344.7,366.4C349.2,369.8 355.8,378 358.1,380.4" fill="none" stroke="#a8a38b" stroke-width="1.35" stroke-linejoin="round" stroke-linecap="round"/>
<path d="M337.4,358.5C339.7,359.6 346.8,361.8 351.3,365.3C355.7,368.7 361.9,377 364.1,379.4" fill="none" stroke="#a8a38b" stroke-width="1.35" stroke-linejoin="round" stroke-linecap="round"/>
<path d="M376,328.7C378.7,330.1 387.2,333.9 392.1,337.2C397,340.6 403.1,347.1 405.3,349" fill="none" stroke="#a8a38b" stroke-width="1.35" stroke-linejoin="round" stroke-linecap="round"/>
<path d="M383,327.7C385.4,329.2 393.6,333.4 397.6,336.8C401.5,340.3 405.2,346.3 406.8,348.2" fill="none" stroke="#a8a38b" stroke-width="1.35" stroke-linejoin="round" stroke-linecap="round"/>
<path d="M419.3,347.5C421.8,348.5 429.4,350.5 434.5,353.7C439.6,357 447.2,364.7 449.8,366.9" fill="none" stroke="#a8a38b" stroke-width="1.35" stroke-linejoin="round" stroke-linecap="round"/>
<path d="M425.3,346.2C427.9,347.3 436,349.3 441.1,352.6C446.2,355.9 453.3,363.7 455.8,365.9" fill="none" stroke="#a8a38b" stroke-width="1.35" stroke-linejoin="round" stroke-linecap="round"/>
<path d="M459,317.8C461.8,319.2 470.7,322.7 475.9,326C481,329.2 487.4,335.4 489.7,337.2" fill="none" stroke="#a8a38b" stroke-width="1.35" stroke-linejoin="round" stroke-linecap="round"/>
<path d="M466,316.8C468.5,318.3 477.2,322.3 481.4,325.6C485.6,328.8 489.6,334.6 491.2,336.4" fill="none" stroke="#a8a38b" stroke-width="1.35" stroke-linejoin="round" stroke-linecap="round"/>
<path d="M503.7,335.7C506.5,336.7 515.1,338.5 520.8,341.6C526.5,344.6 535,351.9 537.9,354" fill="none" stroke="#a8a38b" stroke-width="1.35" stroke-linejoin="round" stroke-linecap="round"/>
<path d="M509.7,334.4C512.6,335.4 521.8,337.4 527.5,340.5C533.2,343.6 541.1,350.9 543.9,353" fill="none" stroke="#a8a38b" stroke-width="1.35" stroke-linejoin="round" stroke-linecap="round"/>
<path d="M539.9,307.2C542.8,308.5 552.2,311.9 557.5,315C562.9,318.1 569.5,324 572,325.8" fill="none" stroke="#a8a38b" stroke-width="1.35" stroke-linejoin="round" stroke-linecap="round"/>
<path d="M546.9,306.2C549.6,307.6 558.7,311.5 563.1,314.6C567.5,317.7 571.7,323.2 573.5,325" fill="none" stroke="#a8a38b" stroke-width="1.35" stroke-linejoin="round" stroke-linecap="round"/>
<path d="M586,324.3C589.1,325.2 598.6,326.9 604.9,329.8C611.2,332.6 620.6,339.5 623.8,341.4" fill="none" stroke="#a8a38b" stroke-width="1.35" stroke-linejoin="round" stroke-linecap="round"/>
<path d="M592,323C595.2,323.9 605.3,325.7 611.6,328.6C617.9,331.5 626.7,338.5 629.8,340.4" fill="none" stroke="#a8a38b" stroke-width="1.35" stroke-linejoin="round" stroke-linecap="round"/>
<path d="M616.5,297.2C619.6,298.4 629.3,301.7 634.9,304.6C640.5,307.6 647.4,313.2 649.9,314.9" fill="none" stroke="#a8a38b" stroke-width="1.35" stroke-linejoin="round" stroke-linecap="round"/>
<path d="M623.5,296.2C626.4,297.5 635.9,301.2 640.6,304.2C645.2,307.1 649.6,312.4 651.4,314.1" fill="none" stroke="#a8a38b" stroke-width="1.35" stroke-linejoin="round" stroke-linecap="round"/>
<path d="M663.9,313.4C667.4,314.3 677.7,315.9 684.6,318.6C691.4,321.2 701.7,327.7 705.2,329.5" fill="none" stroke="#a8a38b" stroke-width="1.35" stroke-linejoin="round" stroke-linecap="round"/>
<path d="M669.9,312.1C673.5,313 684.5,314.7 691.4,317.4C698.2,320.1 707.9,326.7 711.2,328.5" fill="none" stroke="#a8a38b" stroke-width="1.35" stroke-linejoin="round" stroke-linecap="round"/><path d="M306.8,415.9C310.7,414.3 321.5,408.7 329.9,406.4C338.4,404.1 348.9,402.5 357.6,401.9C366.4,401.3 375.6,402 382.6,402.9C389.5,403.7 396.4,406.2 399.2,406.8" fill="none" stroke="#a8a38b" stroke-width="2.3" stroke-linejoin="round" stroke-linecap="round"/>
<path d="M399.2,406.8C403.2,405 414.5,398.7 423.4,395.8C432.3,392.9 443.3,390.7 452.5,389.5C461.7,388.3 471.4,388.5 478.7,388.8C486,389.2 493.2,391.2 496.1,391.7" fill="none" stroke="#a8a38b" stroke-width="2.3" stroke-linejoin="round" stroke-linecap="round"/>
<path d="M496.1,391.7C499.8,389.9 510,383.8 518.1,381.1C526.1,378.3 536.1,376.2 544.4,375.2C552.7,374.1 561.5,374.4 568.1,374.9C574.7,375.4 581.2,377.5 583.9,378" fill="none" stroke="#a8a38b" stroke-width="2.3" stroke-linejoin="round" stroke-linecap="round"/>
<path d="M583.9,378C587.5,376.2 597.8,370.1 605.9,367.4C614,364.6 624,362.5 632.4,361.4C640.8,360.4 649.6,360.7 656.2,361.1C662.8,361.6 669.5,363.7 672.1,364.2" fill="none" stroke="#a8a38b" stroke-width="2.3" stroke-linejoin="round" stroke-linecap="round"/>
<path d="M672.1,364.2C675.4,362.6 684.8,356.9 692.1,354.4C699.4,351.8 708.5,349.8 716.1,348.9C723.7,348 731.7,348.3 737.7,348.8C743.7,349.2 749.7,351.3 752.1,351.8" fill="none" stroke="#a8a38b" stroke-width="2.3" stroke-linejoin="round" stroke-linecap="round"/>
<path d="M752.1,351.8C754.9,350.2 762.8,345.1 768.9,342.6C775.1,340.1 782.7,338.1 789.1,337C795.4,335.9 804.2,336.1 807.2,335.9" fill="none" stroke="#a8a38b" stroke-width="2.3" stroke-linejoin="round" stroke-linecap="round"/>
<path d="M362.1,379.8C365.5,381.7 376.3,386.6 382.5,391.1C388.7,395.6 396.4,404.2 399.2,406.8" fill="none" stroke="#a8a38b" stroke-width="1.35" stroke-linejoin="round" stroke-linecap="round"/>
<path d="M369.1,378.8C372.3,380.8 383.1,386.4 388.4,390.9C393.6,395.5 398.6,403.5 400.7,406" fill="none" stroke="#a8a38b" stroke-width="1.35" stroke-linejoin="round" stroke-linecap="round"/>
<path d="M413.2,405.3C416.2,406.7 425.4,409.3 431.5,413.6C437.6,417.9 446.8,428.3 449.8,431.2" fill="none" stroke="#a8a38b" stroke-width="1.35" stroke-linejoin="round" stroke-linecap="round"/>
<path d="M419.2,404C422.4,405.4 432.1,408.2 438.2,412.6C444.3,416.9 452.9,427.3 455.8,430.2" fill="none" stroke="#a8a38b" stroke-width="1.35" stroke-linejoin="round" stroke-linecap="round"/>
<path d="M457.6,365.8C461.2,367.6 472.4,372.3 478.8,376.7C485.2,381 493.3,389.2 496.1,391.7" fill="none" stroke="#a8a38b" stroke-width="1.35" stroke-linejoin="round" stroke-linecap="round"/>
<path d="M464.6,364.8C468,366.7 479.2,372.1 484.7,376.4C490.2,380.8 495.5,388.5 497.6,390.9" fill="none" stroke="#a8a38b" stroke-width="1.35" stroke-linejoin="round" stroke-linecap="round"/>
<path d="M510.1,390.2C513.5,391.5 523.7,394 530.4,398C537.2,402.1 547.3,411.9 550.7,414.7" fill="none" stroke="#a8a38b" stroke-width="1.35" stroke-linejoin="round" stroke-linecap="round"/>
<path d="M516.1,388.9C519.7,390.2 530.5,392.8 537.2,397C544,401.1 553.5,410.9 556.7,413.7" fill="none" stroke="#a8a38b" stroke-width="1.35" stroke-linejoin="round" stroke-linecap="round"/>
<path d="M544,353.1C547.7,354.9 559.3,359.4 565.9,363.6C572.6,367.7 580.9,375.6 583.9,378" fill="none" stroke="#a8a38b" stroke-width="1.35" stroke-linejoin="round" stroke-linecap="round"/>
<path d="M551,352.1C554.5,354 566.2,359.1 571.9,363.3C577.7,367.5 583.1,374.9 585.4,377.2" fill="none" stroke="#a8a38b" stroke-width="1.35" stroke-linejoin="round" stroke-linecap="round"/>
<path d="M597.9,376.5C601.5,377.8 612.6,380.1 619.9,384C627.3,387.8 638.3,397.1 642,399.8" fill="none" stroke="#a8a38b" stroke-width="1.35" stroke-linejoin="round" stroke-linecap="round"/>
<path d="M603.9,375.2C607.7,376.5 619.5,379 626.8,382.9C634.2,386.8 644.5,396.1 648,398.8" fill="none" stroke="#a8a38b" stroke-width="1.35" stroke-linejoin="round" stroke-linecap="round"/>
<path d="M630.9,340.4C634.7,342.1 646.7,346.4 653.6,350.4C660.4,354.4 669,361.9 672.1,364.2" fill="none" stroke="#a8a38b" stroke-width="1.35" stroke-linejoin="round" stroke-linecap="round"/>
<path d="M637.9,339.4C641.6,341.2 653.7,346.1 659.6,350.1C665.6,354.1 671.3,361.2 673.6,363.5" fill="none" stroke="#a8a38b" stroke-width="1.35" stroke-linejoin="round" stroke-linecap="round"/>
<path d="M686.1,362.8C690.1,363.9 702,366.1 710,369.8C717.9,373.5 729.9,382.3 733.9,384.8" fill="none" stroke="#a8a38b" stroke-width="1.35" stroke-linejoin="round" stroke-linecap="round"/>
<path d="M692.1,361.5C696.2,362.7 709,365 716.9,368.7C724.9,372.4 736,381.2 739.9,383.8" fill="none" stroke="#a8a38b" stroke-width="1.35" stroke-linejoin="round" stroke-linecap="round"/>
<path d="M709.8,328.8C713.6,330.4 726,334.6 733.1,338.5C740.1,342.3 749,349.6 752.1,351.8" fill="none" stroke="#a8a38b" stroke-width="1.35" stroke-linejoin="round" stroke-linecap="round"/>
<path d="M716.8,327.8C720.5,329.5 733,334.3 739.2,338.2C745.3,342 751.2,348.8 753.6,351" fill="none" stroke="#a8a38b" stroke-width="1.35" stroke-linejoin="round" stroke-linecap="round"/>
<path d="M766.1,350.3C770.4,351.4 783.1,353.5 791.6,356.9C800.1,360.4 812.9,368.8 817.1,371.1" fill="none" stroke="#a8a38b" stroke-width="1.35" stroke-linejoin="round" stroke-linecap="round"/>
<path d="M772.1,349C776.5,350.1 790.2,352.3 798.7,355.8C807.2,359.4 819.1,367.7 823.1,370.1" fill="none" stroke="#a8a38b" stroke-width="1.35" stroke-linejoin="round" stroke-linecap="round"/></g>
<path d="M314,434C315.3,435.8 317,442.5 322,445C327,447.5 340.3,448.3 344,449L882,361C882.3,364 883.7,373.5 884,379C884.3,384.5 884.2,390 884,394C883.8,398 883.7,401.1 883,403C882.3,404.9 880.5,405.1 880,405.5L332,489.5C330.3,489.2 324.3,489.4 322,488C319.7,486.6 318.7,482.2 318,481Z" fill="url(#gSeatFront)"/>
<path d="M314,434C315.3,435.8 317,442.5 322,445C327,447.5 340.3,448.3 344,449L361,446.2L359,485.3L332,489.5C330.3,489.2 324.3,489.4 322,488C319.7,486.6 318.7,482.2 318,481Z" fill="url(#gSeatCorner)"/>
<path d="M872,362.6L882,361L884,394L880,405.5L870,407Z" fill="#f3ecd8"/>
<path d="M317,440C318.5,441.2 321.5,446 326,447.5C330.5,449 341,448.8 344,449L882,361" fill="none" stroke="#bdb69c" stroke-width="1" stroke-linejoin="round" stroke-linecap="round"/>
<path d="M286,340.5L679,289" fill="none" stroke="#1c1c1c" stroke-width="1.35" stroke-linejoin="round" stroke-linecap="round"/>
<path d="M679,289C684.8,291.2 699.8,297 714,302C728.2,307 747.3,313.9 764,319C780.7,324.1 799,327.7 814,332.5C829,337.3 842.7,343.4 854,348C865.3,352.6 877.3,358 882,360" fill="none" stroke="#1c1c1c" stroke-width="1.8" stroke-linejoin="round" stroke-linecap="round"/>
<path d="M306,388L770,320" fill="none" stroke="#1c1c1c" stroke-width="1.3" stroke-linejoin="round" stroke-linecap="round"/>
<path d="M882,360C882.3,363.2 883.7,373.3 884,379C884.3,384.7 884.2,390 884,394C883.8,398 883.7,401.1 883,403C882.3,404.9 880.5,405.1 880,405.5L332,489.5C330.3,489.2 324.3,489.4 322,488C319.7,486.6 318.7,482.2 318,481L314,434" fill="none" stroke="#1c1c1c" stroke-width="1.35" stroke-linejoin="round" stroke-linecap="round"/>
<path d="M282,549 L282.5,552.0 Q288.5,556.0 294.5,552.0 L295,549 Z" fill="#ececee" stroke="#555" stroke-width="1.1" stroke-linejoin="round" stroke-linecap="round"/><path d="M313,542.5 L313.5,545.5 Q319.5,549.5 325.5,545.5 L326,542.5 Z" fill="#ececee" stroke="#555" stroke-width="1.1" stroke-linejoin="round" stroke-linecap="round"/>
<path d="M163,468C162.2,458.3 159.6,425.5 158,410C156.4,394.5 154.6,387.5 153.5,375C152.4,362.5 152.1,346.7 151.5,335C150.9,323.3 150.4,315 150,305C149.6,295 149.2,282.2 149,275C148.8,267.8 148.4,265.8 148.6,262C148.8,258.2 149.3,254.8 150,252C150.7,249.2 151.8,246.9 153,245C154.2,243.1 155.5,241.6 157,240.5C158.5,239.4 161.2,238.9 162,238.6C165,238.3 175,237.5 180,237C185,236.5 189.2,235.7 192,235.5C194.8,235.3 195.5,235.6 197,236C198.5,236.4 199.7,236.8 201,238C202.3,239.2 203.7,240.8 205,243C206.3,245.2 207.7,247.3 209,251C210.3,254.7 211.7,259.3 213,265C214.3,270.7 215.8,279.2 217,285C218.2,290.8 219,294.7 220,300C221,305.3 222.5,314.2 223,317C226.7,317.1 239.2,317 245,317.5C250.8,318 253.8,318.8 258,320C262.2,321.2 266.3,322.5 270,325C273.7,327.5 276.7,330.3 280,335C283.3,339.7 287,346.8 290,353C293,359.2 295.8,365.5 298,372C300.2,378.5 301.7,385.7 303,392C304.3,398.3 305.2,404.2 306,410C306.8,415.8 307.2,424.2 307.5,427C308.2,427.8 310.8,429 312,432C313.2,435 313.8,438.7 314.5,445C315.2,451.3 315.6,462.5 316,470C316.4,477.5 316.9,481.7 317,490C317.1,498.3 316.7,511 316.4,520C316.1,529 315.2,540 315,544L278,550.5L272,552C263.3,545.7 235.3,525.7 220,514C204.7,502.3 189,489.2 180,482C171,474.8 168.8,473.3 166,471C163.2,468.7 163.5,468.5 163,468Z" fill="url(#gWall)" stroke="#1c1c1c" stroke-width="1.45" stroke-linejoin="round" stroke-linecap="round"/>
<path d="M278.5,445L315,441L316.6,520L315,544L278,550.5Z" fill="url(#gStrip)"/>
<path d="M160,239.5C161,240.4 164,242.4 166,245C168,247.6 170,250.3 172,255C174,259.7 176.2,266.3 178,273C179.8,279.7 181.5,288 183,295C184.5,302 185.8,309.2 187,315C188.2,320.8 189.5,327.5 190,330C191.7,329 196,325.8 200,324C204,322.2 210.2,320.5 214,319.5C217.8,318.5 221.5,318.1 223,317.8C222.5,314.8 221,305.5 220,300C219,294.5 218.2,290.8 217,285C215.8,279.2 214.3,270.7 213,265C211.7,259.3 210.3,254.7 209,251C207.7,247.3 206.3,245.2 205,243C203.7,240.8 202.3,239.2 201,238C199.7,236.8 198.5,236.4 197,236C195.5,235.6 194.8,235.3 192,235.5C189.2,235.7 185,236.5 180,237C175,237.5 165,238.3 162,238.6Z" fill="url(#gTopStrip)"/>
<path d="M160,239.5C161,240.4 164,242.4 166,245C168,247.6 170,250.3 172,255C174,259.7 176.2,266.3 178,273C179.8,279.7 181.5,288 183,295C184.5,302 185.8,309.2 187,315C188.2,320.8 189.5,327.5 190,330" fill="none" stroke="#1c1c1c" stroke-width="1.2" stroke-linejoin="round" stroke-linecap="round"/>
<path d="M157.8,241C158.8,242 162,244.3 164,247C166,249.7 168,252.3 170,257C172,261.7 174.2,268.3 176,275C177.8,281.7 179.5,290 181,297C182.5,304 183.9,311.3 185,317C186.1,322.7 187.3,328.7 187.8,331" fill="none" stroke="#c6c6ca" stroke-width="1.6" stroke-linejoin="round" stroke-linecap="round"/>
<path d="M190,330.5C191.7,329.4 196,325.8 200,324C204,322.2 209,320.6 214,319.5C219,318.4 224.8,317.8 230,317.5C235.2,317.2 240.3,317.1 245,317.5C249.7,317.9 253.8,318.8 258,320C262.2,321.2 266.3,322.5 270,325C273.7,327.5 276.7,330.3 280,335C283.3,339.7 287,346.8 290,353C293,359.2 295.8,365.5 298,372C300.2,378.5 301.7,385.7 303,392C304.3,398.3 305.2,404.2 306,410C306.8,415.8 307.2,424.2 307.5,427" fill="none" stroke="#1c1c1c" stroke-width="1.45" stroke-linejoin="round" stroke-linecap="round"/>
<path d="M190,330.5C191.7,329.4 196,325.8 200,324C204,322.2 209,320.6 214,319.5C219,318.4 224.8,317.8 230,317.5C235.2,317.2 240.3,317.1 245,317.5C249.7,317.9 253.8,318.8 258,320C262.2,321.2 266.3,322.5 270,325C273.7,327.5 276.7,330.3 280,335C283.3,339.7 287,346.8 290,353C293,359.2 295.8,365.5 298,372C300.2,378.5 301.7,385.7 303,392C304.3,398.3 305.2,404.2 306,410C306.8,415.8 307.2,424.2 307.5,427C306.8,427.3 305.9,428.2 303,429C300.1,429.8 295,431.2 290,432C285,432.8 275.8,433.7 273,434C271.2,433.2 265.5,430.9 262,429C258.5,427.1 253.7,423.6 252,422.5C251.8,421.2 251.5,418.4 251,415C250.5,411.6 250,406.5 249,402C248,397.5 246.8,393 245,388C243.2,383 240.5,376.7 238,372C235.5,367.3 232.3,362.8 230,360C227.7,357.2 226,356.2 224,355C222,353.8 220.3,353.2 218,353C215.7,352.8 213.7,353.3 210,354C206.3,354.7 198.3,356.5 196,357C195.5,355.5 194,352.4 193,348C192,343.6 190.5,333.4 190,330.5Z" fill="url(#gArmL)"/>
<path d="M262,323C263.8,324.3 269.5,327.3 273,331C276.5,334.7 280,339.8 283,345C286,350.2 288.7,356.2 291,362C293.3,367.8 295.3,374 297,380C298.7,386 299.8,392.2 301,398C302.2,403.8 303.2,410 304,415C304.8,420 305.2,425.8 305.5,428" fill="none" stroke="#8f8f8f" stroke-width="0.9" stroke-linejoin="round" stroke-linecap="round"/>
<path d="M190,330.5C190.5,333.4 192,343.6 193,348C194,352.4 194.8,353.7 196,357C197.2,360.3 198,363.5 200,368C202,372.5 205,379 208,384C211,389 214.3,394 218,398C221.7,402 226,405 230,408C234,411 238.3,413.6 242,416C245.7,418.4 248.7,420.3 252,422.5C255.3,424.7 258.5,427.1 262,429C265.5,430.9 271.2,433.2 273,434" fill="none" stroke="#1c1c1c" stroke-width="1.45" stroke-linejoin="round" stroke-linecap="round"/>
<path d="M183,320C183.7,323.3 185.2,333 187,340C188.8,347 191.3,355 194,362C196.7,369 199.7,376 203,382C206.3,388 210.2,393.5 214,398C217.8,402.5 221.7,405.5 226,409C230.3,412.5 235.2,415.8 240,419C244.8,422.2 250.7,425.5 255,428C259.3,430.5 263.3,432 266,434C268.7,436 269.7,437.3 271,440C272.3,442.7 273.2,443.3 274,450C274.8,456.7 275.6,468.3 276,480C276.4,491.7 276.6,508.3 276.5,520C276.4,531.7 275.7,545 275.5,550" fill="none" stroke="#8f8f8f" stroke-width="1" stroke-linejoin="round" stroke-linecap="round"/>
<path d="M196,357C198.3,356.5 206.3,354.7 210,354C213.7,353.3 215.7,352.8 218,353C220.3,353.2 222,353.8 224,355C226,356.2 227.7,357.2 230,360C232.3,362.8 235.5,367.3 238,372C240.5,376.7 243.2,383 245,388C246.8,393 248,397.5 249,402C250,406.5 250.5,411.6 251,415C251.5,418.4 251.8,421.2 252,422.5C250.3,421.4 245.7,418.4 242,416C238.3,413.6 234,411 230,408C226,405 221.7,402 218,398C214.3,394 211,389 208,384C205,379 202,372.5 200,368C198,363.5 196.7,358.8 196,357Z" fill="#f7f7f9" stroke="#1c1c1c" stroke-width="1.45" stroke-linejoin="round" stroke-linecap="round"/>
<path d="M231,361.5C231.7,363.1 233.9,367.9 235.3,371C236.7,374.1 238,377.3 239.5,380C241,382.7 243.5,385.8 244.3,387" fill="none" stroke="#1c1c1c" stroke-width="1" stroke-linejoin="round" stroke-linecap="round"/>
<path d="M196,354.5C197.7,354.2 202.8,353.4 206,353C209.2,352.6 213.5,352.2 215,352" fill="none" stroke="#8f8f8f" stroke-width="0.9" stroke-linejoin="round" stroke-linecap="round"/>
<path d="M220,320C221.7,320.8 226.7,322.8 230,325C233.3,327.2 236.7,329.7 240,333C243.3,336.3 247,340.5 250,345C253,349.5 255.8,355 258,360C260.2,365 261.6,369.7 263,375C264.4,380.3 265.6,386.2 266.5,392C267.4,397.8 267.9,403.3 268.5,410C269.1,416.7 269.8,428.3 270,432" fill="none" stroke="#8f8f8f" stroke-width="1" stroke-linejoin="round" stroke-linecap="round"/>
<path d="M225,319.5C226.8,320.4 232.5,322.6 236,325C239.5,327.4 242.8,330.5 246,334C249.2,337.5 252.2,341.5 255,346C257.8,350.5 260.8,355.7 263,361C265.2,366.3 266.6,372.3 268,378C269.4,383.7 270.6,389.3 271.5,395C272.4,400.7 273,405.8 273.5,412C274,418.2 274.3,428.7 274.5,432" fill="none" stroke="#1c1c1c" stroke-width="1.1" stroke-linejoin="round" stroke-linecap="round"/>
<path d="M273,434C275.8,433.7 285,432.8 290,432C295,431.2 300.1,429.8 303,429C305.9,428.2 306.8,427.3 307.5,427" fill="none" stroke="#1c1c1c" stroke-width="1.4" stroke-linejoin="round" stroke-linecap="round"/>
<path d="M273,434C273.6,435.8 275.6,439 276.5,445C277.4,451 278,460.8 278.5,470C279,479.2 279.2,490 279.3,500C279.4,510 279,521.6 278.8,530C278.6,538.4 278.1,547.1 278,550.5" fill="none" stroke="#1c1c1c" stroke-width="1.35" stroke-linejoin="round" stroke-linecap="round"/>
<path d="M309,431C309.3,433.3 310.4,438.5 311,445C311.6,451.5 312.1,462.5 312.5,470C312.9,477.5 313.5,481.7 313.6,490C313.7,498.3 313.3,510.9 313,520C312.7,529.1 311.8,540.4 311.6,544.5" fill="none" stroke="#8f8f8f" stroke-width="1" stroke-linejoin="round" stroke-linecap="round"/>
<path d="M163,468C162.2,458.3 159.6,425.5 158,410C156.4,394.5 154.6,387.5 153.5,375C152.4,362.5 152.1,346.7 151.5,335C150.9,323.3 150.4,315 150,305C149.6,295 149.2,282.2 149,275C148.8,267.8 148.4,265.8 148.6,262C148.8,258.2 149.3,254.8 150,252C150.7,249.2 151.8,246.9 153,245C154.2,243.1 155.5,241.6 157,240.5C158.5,239.4 161.2,238.9 162,238.6C165,238.3 175,237.5 180,237C185,236.5 189.2,235.7 192,235.5C194.8,235.3 195.5,235.6 197,236C198.5,236.4 199.7,236.8 201,238C202.3,239.2 203.7,240.8 205,243C206.3,245.2 207.7,247.3 209,251C210.3,254.7 211.7,259.3 213,265C214.3,270.7 215.8,279.2 217,285C218.2,290.8 219,294.7 220,300C221,305.3 222.5,314.2 223,317C226.7,317.1 239.2,317 245,317.5C250.8,318 253.8,318.8 258,320C262.2,321.2 266.3,322.5 270,325C273.7,327.5 276.7,330.3 280,335C283.3,339.7 287,346.8 290,353C293,359.2 295.8,365.5 298,372C300.2,378.5 301.7,385.7 303,392C304.3,398.3 305.2,404.2 306,410C306.8,415.8 307.2,424.2 307.5,427C308.2,427.8 310.8,429 312,432C313.2,435 313.8,438.7 314.5,445C315.2,451.3 315.6,462.5 316,470C316.4,477.5 316.9,481.7 317,490C317.1,498.3 316.7,511 316.4,520C316.1,529 315.2,540 315,544L278,550.5L272,552C263.3,545.7 235.3,525.7 220,514C204.7,502.3 189,489.2 180,482C171,474.8 168.8,473.3 166,471C163.2,468.7 163.5,468.5 163,468Z" fill="none" stroke="#1c1c1c" stroke-width="1.45" stroke-linejoin="round" stroke-linecap="round"/>
<path d="M190,330.5C191.7,329.4 196,325.8 200,324C204,322.2 209,320.6 214,319.5C219,318.4 224.8,317.8 230,317.5C235.2,317.2 240.3,317.1 245,317.5C249.7,317.9 255.8,319.6 258,320" fill="none" stroke="#1c1c1c" stroke-width="1.45" stroke-linejoin="round" stroke-linecap="round"/></g>
</svg></div></body></html>
